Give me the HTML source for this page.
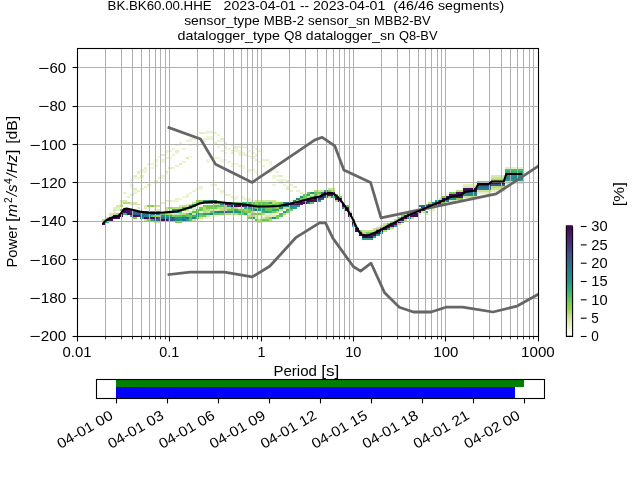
<!DOCTYPE html>
<html><head><meta charset="utf-8"><title>PPSD</title>
<style>html,body{margin:0;padding:0;background:#fff;}svg{display:block;will-change:transform;}</style></head>
<body>
<svg width="640" height="480" viewBox="0 0 640 480" font-family="'Liberation Sans', sans-serif" fill="#000">
<rect width="640" height="480" fill="#fff"/>
<g shape-rendering="crispEdges">
<rect x="102.27" y="218.88" width="3.52" height="1.97" fill="#b8db78"/>
<rect x="102.27" y="222.72" width="3.52" height="1.97" fill="#460b5c"/>
<rect x="105.74" y="216.96" width="3.52" height="1.97" fill="#cde298"/>
<rect x="105.74" y="218.88" width="3.52" height="1.97" fill="#460b5c"/>
<rect x="105.74" y="220.80" width="3.52" height="1.97" fill="#38b472"/>
<rect x="109.21" y="213.12" width="3.52" height="1.97" fill="#d9e8af"/>
<rect x="109.21" y="215.04" width="3.52" height="1.97" fill="#d9e8af"/>
<rect x="109.21" y="216.96" width="3.52" height="1.97" fill="#460b5c"/>
<rect x="109.21" y="218.88" width="3.52" height="1.97" fill="#460b5c"/>
<rect x="112.67" y="207.36" width="3.52" height="1.97" fill="#e4efc6"/>
<rect x="112.67" y="209.28" width="3.52" height="1.97" fill="#d9e8af"/>
<rect x="112.67" y="211.20" width="3.52" height="1.97" fill="#e4efc6"/>
<rect x="112.67" y="213.12" width="3.52" height="1.97" fill="#cde298"/>
<rect x="112.67" y="215.04" width="3.52" height="1.97" fill="#460b5c"/>
<rect x="112.67" y="216.96" width="3.52" height="1.97" fill="#460b5c"/>
<rect x="116.14" y="205.44" width="3.52" height="1.97" fill="#d9e8af"/>
<rect x="116.14" y="207.36" width="3.52" height="1.97" fill="#e4efc6"/>
<rect x="116.14" y="209.28" width="3.52" height="1.97" fill="#e4efc6"/>
<rect x="116.14" y="213.12" width="3.52" height="1.97" fill="#a3d458"/>
<rect x="116.14" y="215.04" width="3.52" height="1.97" fill="#460b5c"/>
<rect x="116.14" y="216.96" width="3.52" height="1.97" fill="#460b5c"/>
<rect x="119.61" y="199.68" width="3.52" height="1.97" fill="#d9e8af"/>
<rect x="119.61" y="201.60" width="3.52" height="1.97" fill="#e4efc6"/>
<rect x="119.61" y="203.52" width="3.52" height="1.97" fill="#e4efc6"/>
<rect x="119.61" y="205.44" width="3.52" height="1.97" fill="#b8db78"/>
<rect x="119.61" y="209.28" width="3.52" height="1.97" fill="#76ca54"/>
<rect x="119.61" y="213.12" width="3.52" height="1.97" fill="#460b5c"/>
<rect x="119.61" y="215.04" width="3.52" height="1.97" fill="#460b5c"/>
<rect x="123.08" y="199.68" width="3.52" height="1.97" fill="#d9e8af"/>
<rect x="123.08" y="201.60" width="3.52" height="1.97" fill="#b8db78"/>
<rect x="123.08" y="209.28" width="3.52" height="1.97" fill="#460b5c"/>
<rect x="123.08" y="211.20" width="3.52" height="1.97" fill="#460b5c"/>
<rect x="123.08" y="213.12" width="3.52" height="1.97" fill="#38b472"/>
<rect x="126.55" y="201.60" width="3.52" height="1.97" fill="#b8db78"/>
<rect x="126.55" y="209.28" width="3.52" height="1.97" fill="#460b5c"/>
<rect x="126.55" y="211.20" width="3.52" height="1.97" fill="#460b5c"/>
<rect x="126.55" y="213.12" width="3.52" height="1.97" fill="#460b5c"/>
<rect x="130.01" y="201.60" width="3.52" height="1.97" fill="#d9e8af"/>
<rect x="130.01" y="203.52" width="3.52" height="1.97" fill="#d9e8af"/>
<rect x="130.01" y="209.28" width="3.52" height="1.97" fill="#472f7d"/>
<rect x="130.01" y="211.20" width="3.52" height="1.97" fill="#472f7d"/>
<rect x="130.01" y="213.12" width="3.52" height="1.97" fill="#460b5c"/>
<rect x="130.01" y="215.04" width="3.52" height="1.97" fill="#269e84"/>
<rect x="133.48" y="201.60" width="3.52" height="1.97" fill="#d9e8af"/>
<rect x="133.48" y="203.52" width="3.52" height="1.97" fill="#d9e8af"/>
<rect x="133.48" y="211.20" width="3.52" height="1.97" fill="#365d8c"/>
<rect x="133.48" y="213.12" width="3.52" height="1.97" fill="#31688e"/>
<rect x="133.48" y="215.04" width="3.52" height="1.97" fill="#460b5c"/>
<rect x="133.48" y="216.96" width="3.52" height="1.97" fill="#76ca54"/>
<rect x="136.95" y="203.52" width="3.52" height="1.97" fill="#cde298"/>
<rect x="136.95" y="207.36" width="3.52" height="1.97" fill="#e4efc6"/>
<rect x="136.95" y="211.20" width="3.52" height="1.97" fill="#472f7d"/>
<rect x="136.95" y="213.12" width="3.52" height="1.97" fill="#365d8c"/>
<rect x="136.95" y="215.04" width="3.52" height="1.97" fill="#471465"/>
<rect x="143.88" y="205.44" width="3.52" height="1.97" fill="#e4efc6"/>
<rect x="147.35" y="205.44" width="3.52" height="1.97" fill="#8dce4c"/>
<rect x="150.82" y="205.44" width="3.52" height="1.97" fill="#8dce4c"/>
<rect x="154.29" y="205.44" width="3.52" height="1.97" fill="#cde298"/>
<rect x="157.76" y="205.44" width="3.52" height="1.97" fill="#cde298"/>
<rect x="143.88" y="207.36" width="3.52" height="1.97" fill="#e4efc6"/>
<rect x="154.29" y="209.28" width="3.52" height="1.97" fill="#e4efc6"/>
<rect x="157.76" y="209.28" width="3.52" height="1.97" fill="#e4efc6"/>
<rect x="161.22" y="201.60" width="3.52" height="1.97" fill="#e4efc6"/>
<rect x="164.69" y="199.68" width="3.52" height="1.97" fill="#e4efc6"/>
<rect x="168.16" y="199.68" width="3.52" height="1.97" fill="#e4efc6"/>
<rect x="171.63" y="199.68" width="3.52" height="1.97" fill="#eef5db"/>
<rect x="164.69" y="207.36" width="3.52" height="1.97" fill="#cde298"/>
<rect x="164.69" y="209.28" width="3.52" height="1.97" fill="#cde298"/>
<rect x="168.16" y="207.36" width="3.52" height="1.97" fill="#a3d458"/>
<rect x="171.63" y="207.36" width="3.52" height="1.97" fill="#b8db78"/>
<rect x="140.42" y="213.12" width="3.52" height="1.97" fill="#28798e"/>
<rect x="143.88" y="213.12" width="3.52" height="1.97" fill="#2d708e"/>
<rect x="147.35" y="213.12" width="3.52" height="1.97" fill="#28798e"/>
<rect x="150.82" y="213.12" width="3.52" height="1.97" fill="#31688e"/>
<rect x="154.29" y="213.12" width="3.52" height="1.97" fill="#28798e"/>
<rect x="157.76" y="213.12" width="3.52" height="1.97" fill="#25818e"/>
<rect x="161.22" y="213.12" width="3.52" height="1.97" fill="#60c65c"/>
<rect x="164.69" y="213.12" width="3.52" height="1.97" fill="#a3d458"/>
<rect x="168.16" y="213.12" width="3.52" height="1.97" fill="#b8db78"/>
<rect x="171.63" y="213.12" width="3.52" height="1.97" fill="#d9e8af"/>
<rect x="140.42" y="215.04" width="3.52" height="1.97" fill="#31688e"/>
<rect x="143.88" y="215.04" width="3.52" height="1.97" fill="#25818e"/>
<rect x="147.35" y="215.04" width="3.52" height="1.97" fill="#20928c"/>
<rect x="150.82" y="215.04" width="3.52" height="1.97" fill="#76ca54"/>
<rect x="154.29" y="215.04" width="3.52" height="1.97" fill="#a3d458"/>
<rect x="157.76" y="215.04" width="3.52" height="1.97" fill="#a3d458"/>
<rect x="161.22" y="215.04" width="3.52" height="1.97" fill="#20928c"/>
<rect x="164.69" y="215.04" width="3.52" height="1.97" fill="#269e84"/>
<rect x="168.16" y="215.04" width="3.52" height="1.97" fill="#2baa7c"/>
<rect x="171.63" y="215.04" width="3.52" height="1.97" fill="#76ca54"/>
<rect x="140.42" y="216.96" width="3.52" height="1.97" fill="#20928c"/>
<rect x="143.88" y="216.96" width="3.52" height="1.97" fill="#460b5c"/>
<rect x="147.35" y="216.96" width="3.52" height="1.97" fill="#481d6d"/>
<rect x="150.82" y="216.96" width="3.52" height="1.97" fill="#460b5c"/>
<rect x="154.29" y="216.96" width="3.52" height="1.97" fill="#472f7d"/>
<rect x="157.76" y="216.96" width="3.52" height="1.97" fill="#31688e"/>
<rect x="161.22" y="216.96" width="3.52" height="1.97" fill="#31688e"/>
<rect x="164.69" y="216.96" width="3.52" height="1.97" fill="#28798e"/>
<rect x="168.16" y="216.96" width="3.52" height="1.97" fill="#31688e"/>
<rect x="171.63" y="216.96" width="3.52" height="1.97" fill="#365d8c"/>
<rect x="143.88" y="218.88" width="3.52" height="1.97" fill="#cde298"/>
<rect x="147.35" y="218.88" width="3.52" height="1.97" fill="#76ca54"/>
<rect x="150.82" y="218.88" width="3.52" height="1.97" fill="#2baa7c"/>
<rect x="154.29" y="218.88" width="3.52" height="1.97" fill="#2d708e"/>
<rect x="157.76" y="218.88" width="3.52" height="1.97" fill="#365d8c"/>
<rect x="161.22" y="218.88" width="3.52" height="1.97" fill="#460b5c"/>
<rect x="164.69" y="218.88" width="3.52" height="1.97" fill="#471465"/>
<rect x="168.16" y="218.88" width="3.52" height="1.97" fill="#365d8c"/>
<rect x="171.63" y="218.88" width="3.52" height="1.97" fill="#365d8c"/>
<rect x="154.29" y="220.80" width="3.52" height="1.97" fill="#cde298"/>
<rect x="157.76" y="220.80" width="3.52" height="1.97" fill="#cde298"/>
<rect x="140.42" y="211.20" width="3.52" height="1.97" fill="#228a8d"/>
<rect x="143.88" y="211.20" width="3.52" height="1.97" fill="#228a8d"/>
<rect x="147.35" y="211.20" width="3.52" height="1.97" fill="#228a8d"/>
<rect x="150.82" y="211.20" width="3.52" height="1.97" fill="#228a8d"/>
<rect x="154.29" y="211.20" width="3.52" height="1.97" fill="#228a8d"/>
<rect x="157.76" y="211.20" width="3.52" height="1.97" fill="#228a8d"/>
<rect x="182.03" y="195.84" width="3.52" height="1.97" fill="#eef5db"/>
<rect x="178.56" y="197.76" width="3.52" height="1.97" fill="#eef5db"/>
<rect x="175.10" y="199.68" width="3.52" height="1.97" fill="#eef5db"/>
<rect x="195.90" y="199.68" width="3.52" height="1.97" fill="#8dce4c"/>
<rect x="199.37" y="199.68" width="3.52" height="1.97" fill="#8dce4c"/>
<rect x="202.84" y="199.68" width="3.52" height="1.97" fill="#269e84"/>
<rect x="206.31" y="199.68" width="3.52" height="1.97" fill="#269e84"/>
<rect x="209.77" y="199.68" width="3.52" height="1.97" fill="#269e84"/>
<rect x="192.43" y="201.60" width="3.52" height="1.97" fill="#cde298"/>
<rect x="195.90" y="201.60" width="3.52" height="1.97" fill="#76ca54"/>
<rect x="199.37" y="201.60" width="3.52" height="1.97" fill="#28798e"/>
<rect x="202.84" y="201.60" width="3.52" height="1.97" fill="#20928c"/>
<rect x="206.31" y="201.60" width="3.52" height="1.97" fill="#20928c"/>
<rect x="209.77" y="201.60" width="3.52" height="1.97" fill="#25818e"/>
<rect x="185.50" y="203.52" width="3.52" height="1.97" fill="#e4efc6"/>
<rect x="188.97" y="203.52" width="3.52" height="1.97" fill="#cde298"/>
<rect x="192.43" y="203.52" width="3.52" height="1.97" fill="#269e84"/>
<rect x="195.90" y="203.52" width="3.52" height="1.97" fill="#228a8d"/>
<rect x="178.56" y="205.44" width="3.52" height="1.97" fill="#d9e8af"/>
<rect x="182.03" y="205.44" width="3.52" height="1.97" fill="#cde298"/>
<rect x="185.50" y="205.44" width="3.52" height="1.97" fill="#cde298"/>
<rect x="188.97" y="205.44" width="3.52" height="1.97" fill="#2baa7c"/>
<rect x="192.43" y="205.44" width="3.52" height="1.97" fill="#269e84"/>
<rect x="195.90" y="205.44" width="3.52" height="1.97" fill="#eef5db"/>
<rect x="199.37" y="205.44" width="3.52" height="1.97" fill="#eef5db"/>
<rect x="202.84" y="205.44" width="3.52" height="1.97" fill="#76ca54"/>
<rect x="206.31" y="205.44" width="3.52" height="1.97" fill="#76ca54"/>
<rect x="209.77" y="205.44" width="3.52" height="1.97" fill="#76ca54"/>
<rect x="175.10" y="207.36" width="3.52" height="1.97" fill="#b8db78"/>
<rect x="178.56" y="207.36" width="3.52" height="1.97" fill="#b8db78"/>
<rect x="182.03" y="207.36" width="3.52" height="1.97" fill="#38b472"/>
<rect x="185.50" y="207.36" width="3.52" height="1.97" fill="#38b472"/>
<rect x="188.97" y="207.36" width="3.52" height="1.97" fill="#38b472"/>
<rect x="192.43" y="207.36" width="3.52" height="1.97" fill="#e4efc6"/>
<rect x="199.37" y="207.36" width="3.52" height="1.97" fill="#76ca54"/>
<rect x="202.84" y="207.36" width="3.52" height="1.97" fill="#b8db78"/>
<rect x="206.31" y="207.36" width="3.52" height="1.97" fill="#76ca54"/>
<rect x="209.77" y="207.36" width="3.52" height="1.97" fill="#76ca54"/>
<rect x="171.63" y="209.28" width="3.52" height="1.97" fill="#269e84"/>
<rect x="175.10" y="209.28" width="3.52" height="1.97" fill="#269e84"/>
<rect x="178.56" y="209.28" width="3.52" height="1.97" fill="#269e84"/>
<rect x="182.03" y="209.28" width="3.52" height="1.97" fill="#76ca54"/>
<rect x="185.50" y="209.28" width="3.52" height="1.97" fill="#cde298"/>
<rect x="188.97" y="209.28" width="3.52" height="1.97" fill="#f7faed"/>
<rect x="192.43" y="209.28" width="3.52" height="1.97" fill="#d9e8af"/>
<rect x="195.90" y="209.28" width="3.52" height="1.97" fill="#60c65c"/>
<rect x="199.37" y="209.28" width="3.52" height="1.97" fill="#60c65c"/>
<rect x="202.84" y="209.28" width="3.52" height="1.97" fill="#b8db78"/>
<rect x="206.31" y="209.28" width="3.52" height="1.97" fill="#b8db78"/>
<rect x="209.77" y="209.28" width="3.52" height="1.97" fill="#d9e8af"/>
<rect x="171.63" y="211.20" width="3.52" height="1.97" fill="#25818e"/>
<rect x="175.10" y="211.20" width="3.52" height="1.97" fill="#25818e"/>
<rect x="178.56" y="211.20" width="3.52" height="1.97" fill="#60c65c"/>
<rect x="182.03" y="211.20" width="3.52" height="1.97" fill="#eef5db"/>
<rect x="185.50" y="211.20" width="3.52" height="1.97" fill="#eef5db"/>
<rect x="188.97" y="211.20" width="3.52" height="1.97" fill="#d9e8af"/>
<rect x="192.43" y="211.20" width="3.52" height="1.97" fill="#60c65c"/>
<rect x="195.90" y="211.20" width="3.52" height="1.97" fill="#60c65c"/>
<rect x="199.37" y="211.20" width="3.52" height="1.97" fill="#eef5db"/>
<rect x="202.84" y="211.20" width="3.52" height="1.97" fill="#b8db78"/>
<rect x="206.31" y="211.20" width="3.52" height="1.97" fill="#cde298"/>
<rect x="209.77" y="211.20" width="3.52" height="1.97" fill="#60c65c"/>
<rect x="175.10" y="213.12" width="3.52" height="1.97" fill="#d9e8af"/>
<rect x="178.56" y="213.12" width="3.52" height="1.97" fill="#b8db78"/>
<rect x="182.03" y="213.12" width="3.52" height="1.97" fill="#b8db78"/>
<rect x="185.50" y="213.12" width="3.52" height="1.97" fill="#76ca54"/>
<rect x="188.97" y="213.12" width="3.52" height="1.97" fill="#269e84"/>
<rect x="192.43" y="213.12" width="3.52" height="1.97" fill="#cde298"/>
<rect x="195.90" y="213.12" width="3.52" height="1.97" fill="#228a8d"/>
<rect x="199.37" y="213.12" width="3.52" height="1.97" fill="#4cbd67"/>
<rect x="202.84" y="213.12" width="3.52" height="1.97" fill="#269e84"/>
<rect x="206.31" y="213.12" width="3.52" height="1.97" fill="#269e84"/>
<rect x="209.77" y="213.12" width="3.52" height="1.97" fill="#25818e"/>
<rect x="175.10" y="215.04" width="3.52" height="1.97" fill="#60c65c"/>
<rect x="178.56" y="215.04" width="3.52" height="1.97" fill="#60c65c"/>
<rect x="182.03" y="215.04" width="3.52" height="1.97" fill="#38b472"/>
<rect x="185.50" y="215.04" width="3.52" height="1.97" fill="#60c65c"/>
<rect x="188.97" y="215.04" width="3.52" height="1.97" fill="#76ca54"/>
<rect x="192.43" y="215.04" width="3.52" height="1.97" fill="#38b472"/>
<rect x="195.90" y="215.04" width="3.52" height="1.97" fill="#269e84"/>
<rect x="199.37" y="215.04" width="3.52" height="1.97" fill="#76ca54"/>
<rect x="202.84" y="215.04" width="3.52" height="1.97" fill="#76ca54"/>
<rect x="206.31" y="215.04" width="3.52" height="1.97" fill="#cde298"/>
<rect x="209.77" y="215.04" width="3.52" height="1.97" fill="#eef5db"/>
<rect x="175.10" y="216.96" width="3.52" height="1.97" fill="#20928c"/>
<rect x="178.56" y="216.96" width="3.52" height="1.97" fill="#20928c"/>
<rect x="182.03" y="216.96" width="3.52" height="1.97" fill="#25818e"/>
<rect x="185.50" y="216.96" width="3.52" height="1.97" fill="#2d708e"/>
<rect x="188.97" y="216.96" width="3.52" height="1.97" fill="#4cbd67"/>
<rect x="192.43" y="216.96" width="3.52" height="1.97" fill="#25818e"/>
<rect x="195.90" y="216.96" width="3.52" height="1.97" fill="#76ca54"/>
<rect x="199.37" y="216.96" width="3.52" height="1.97" fill="#cde298"/>
<rect x="202.84" y="216.96" width="3.52" height="1.97" fill="#eef5db"/>
<rect x="206.31" y="216.96" width="3.52" height="1.97" fill="#eef5db"/>
<rect x="175.10" y="218.88" width="3.52" height="1.97" fill="#228a8d"/>
<rect x="178.56" y="218.88" width="3.52" height="1.97" fill="#20928c"/>
<rect x="182.03" y="218.88" width="3.52" height="1.97" fill="#2d708e"/>
<rect x="185.50" y="218.88" width="3.52" height="1.97" fill="#269e84"/>
<rect x="188.97" y="218.88" width="3.52" height="1.97" fill="#60c65c"/>
<rect x="192.43" y="218.88" width="3.52" height="1.97" fill="#cde298"/>
<rect x="199.37" y="218.88" width="3.52" height="1.97" fill="#eef5db"/>
<rect x="175.10" y="220.80" width="3.52" height="1.97" fill="#76ca54"/>
<rect x="178.56" y="220.80" width="3.52" height="1.97" fill="#76ca54"/>
<rect x="213.24" y="199.68" width="3.52" height="1.97" fill="#2baa7c"/>
<rect x="216.71" y="199.68" width="3.52" height="1.97" fill="#d9e8af"/>
<rect x="220.18" y="199.68" width="3.52" height="1.97" fill="#eef5db"/>
<rect x="213.24" y="201.60" width="3.52" height="1.97" fill="#25818e"/>
<rect x="216.71" y="201.60" width="3.52" height="1.97" fill="#38b472"/>
<rect x="220.18" y="201.60" width="3.52" height="1.97" fill="#38b472"/>
<rect x="223.65" y="201.60" width="3.52" height="1.97" fill="#38b472"/>
<rect x="227.11" y="201.60" width="3.52" height="1.97" fill="#38b472"/>
<rect x="230.58" y="201.60" width="3.52" height="1.97" fill="#38b472"/>
<rect x="234.05" y="201.60" width="3.52" height="1.97" fill="#76ca54"/>
<rect x="237.52" y="201.60" width="3.52" height="1.97" fill="#76ca54"/>
<rect x="240.98" y="201.60" width="3.52" height="1.97" fill="#38b472"/>
<rect x="244.45" y="201.60" width="3.52" height="1.97" fill="#38b472"/>
<rect x="247.92" y="201.60" width="3.52" height="1.97" fill="#38b472"/>
<rect x="213.24" y="203.52" width="3.52" height="1.97" fill="#d9e8af"/>
<rect x="216.71" y="203.52" width="3.52" height="1.97" fill="#d9e8af"/>
<rect x="220.18" y="203.52" width="3.52" height="1.97" fill="#25818e"/>
<rect x="223.65" y="203.52" width="3.52" height="1.97" fill="#471465"/>
<rect x="227.11" y="203.52" width="3.52" height="1.97" fill="#471465"/>
<rect x="230.58" y="203.52" width="3.52" height="1.97" fill="#20928c"/>
<rect x="234.05" y="203.52" width="3.52" height="1.97" fill="#38b472"/>
<rect x="237.52" y="203.52" width="3.52" height="1.97" fill="#38b472"/>
<rect x="240.98" y="203.52" width="3.52" height="1.97" fill="#38b472"/>
<rect x="244.45" y="203.52" width="3.52" height="1.97" fill="#38b472"/>
<rect x="247.92" y="203.52" width="3.52" height="1.97" fill="#60c65c"/>
<rect x="213.24" y="205.44" width="3.52" height="1.97" fill="#60c65c"/>
<rect x="216.71" y="205.44" width="3.52" height="1.97" fill="#60c65c"/>
<rect x="220.18" y="205.44" width="3.52" height="1.97" fill="#60c65c"/>
<rect x="223.65" y="205.44" width="3.52" height="1.97" fill="#a3d458"/>
<rect x="227.11" y="205.44" width="3.52" height="1.97" fill="#25818e"/>
<rect x="230.58" y="205.44" width="3.52" height="1.97" fill="#481d6d"/>
<rect x="234.05" y="205.44" width="3.52" height="1.97" fill="#460b5c"/>
<rect x="237.52" y="205.44" width="3.52" height="1.97" fill="#460b5c"/>
<rect x="240.98" y="205.44" width="3.52" height="1.97" fill="#471465"/>
<rect x="244.45" y="205.44" width="3.52" height="1.97" fill="#404687"/>
<rect x="247.92" y="205.44" width="3.52" height="1.97" fill="#404687"/>
<rect x="213.24" y="207.36" width="3.52" height="1.97" fill="#76ca54"/>
<rect x="216.71" y="207.36" width="3.52" height="1.97" fill="#b8db78"/>
<rect x="220.18" y="207.36" width="3.52" height="1.97" fill="#b8db78"/>
<rect x="223.65" y="207.36" width="3.52" height="1.97" fill="#b8db78"/>
<rect x="227.11" y="207.36" width="3.52" height="1.97" fill="#b8db78"/>
<rect x="230.58" y="207.36" width="3.52" height="1.97" fill="#76ca54"/>
<rect x="234.05" y="207.36" width="3.52" height="1.97" fill="#b8db78"/>
<rect x="237.52" y="207.36" width="3.52" height="1.97" fill="#e4efc6"/>
<rect x="240.98" y="207.36" width="3.52" height="1.97" fill="#e4efc6"/>
<rect x="244.45" y="207.36" width="3.52" height="1.97" fill="#2baa7c"/>
<rect x="247.92" y="207.36" width="3.52" height="1.97" fill="#2baa7c"/>
<rect x="213.24" y="209.28" width="3.52" height="1.97" fill="#d9e8af"/>
<rect x="216.71" y="209.28" width="3.52" height="1.97" fill="#d9e8af"/>
<rect x="220.18" y="209.28" width="3.52" height="1.97" fill="#b8db78"/>
<rect x="223.65" y="209.28" width="3.52" height="1.97" fill="#b8db78"/>
<rect x="227.11" y="209.28" width="3.52" height="1.97" fill="#76ca54"/>
<rect x="230.58" y="209.28" width="3.52" height="1.97" fill="#76ca54"/>
<rect x="234.05" y="209.28" width="3.52" height="1.97" fill="#2baa7c"/>
<rect x="237.52" y="209.28" width="3.52" height="1.97" fill="#76ca54"/>
<rect x="240.98" y="209.28" width="3.52" height="1.97" fill="#76ca54"/>
<rect x="244.45" y="209.28" width="3.52" height="1.97" fill="#a3d458"/>
<rect x="247.92" y="209.28" width="3.52" height="1.97" fill="#76ca54"/>
<rect x="213.24" y="211.20" width="3.52" height="1.97" fill="#20928c"/>
<rect x="216.71" y="211.20" width="3.52" height="1.97" fill="#28798e"/>
<rect x="220.18" y="211.20" width="3.52" height="1.97" fill="#28798e"/>
<rect x="223.65" y="211.20" width="3.52" height="1.97" fill="#31688e"/>
<rect x="227.11" y="211.20" width="3.52" height="1.97" fill="#28798e"/>
<rect x="230.58" y="211.20" width="3.52" height="1.97" fill="#28798e"/>
<rect x="234.05" y="211.20" width="3.52" height="1.97" fill="#20928c"/>
<rect x="237.52" y="211.20" width="3.52" height="1.97" fill="#20928c"/>
<rect x="240.98" y="211.20" width="3.52" height="1.97" fill="#4cbd67"/>
<rect x="244.45" y="211.20" width="3.52" height="1.97" fill="#76ca54"/>
<rect x="247.92" y="211.20" width="3.52" height="1.97" fill="#76ca54"/>
<rect x="213.24" y="213.12" width="3.52" height="1.97" fill="#60c65c"/>
<rect x="216.71" y="213.12" width="3.52" height="1.97" fill="#60c65c"/>
<rect x="220.18" y="213.12" width="3.52" height="1.97" fill="#76ca54"/>
<rect x="223.65" y="213.12" width="3.52" height="1.97" fill="#b8db78"/>
<rect x="227.11" y="213.12" width="3.52" height="1.97" fill="#b8db78"/>
<rect x="230.58" y="213.12" width="3.52" height="1.97" fill="#cde298"/>
<rect x="234.05" y="213.12" width="3.52" height="1.97" fill="#b8db78"/>
<rect x="237.52" y="213.12" width="3.52" height="1.97" fill="#76ca54"/>
<rect x="240.98" y="213.12" width="3.52" height="1.97" fill="#76ca54"/>
<rect x="244.45" y="213.12" width="3.52" height="1.97" fill="#2baa7c"/>
<rect x="247.92" y="213.12" width="3.52" height="1.97" fill="#d9e8af"/>
<rect x="213.24" y="215.04" width="3.52" height="1.97" fill="#eef5db"/>
<rect x="216.71" y="215.04" width="3.52" height="1.97" fill="#eef5db"/>
<rect x="237.52" y="215.04" width="3.52" height="1.97" fill="#eef5db"/>
<rect x="247.92" y="215.04" width="3.52" height="1.97" fill="#b8db78"/>
<rect x="247.92" y="216.96" width="3.52" height="1.97" fill="#76ca54"/>
<rect x="247.92" y="199.68" width="3.52" height="1.97" fill="#e4efc6"/>
<rect x="251.39" y="199.68" width="3.52" height="1.97" fill="#e4efc6"/>
<rect x="254.86" y="199.68" width="3.52" height="1.97" fill="#cde298"/>
<rect x="258.32" y="199.68" width="3.52" height="1.97" fill="#cde298"/>
<rect x="261.79" y="199.68" width="3.52" height="1.97" fill="#cde298"/>
<rect x="265.26" y="199.68" width="3.52" height="1.97" fill="#cde298"/>
<rect x="268.73" y="199.68" width="3.52" height="1.97" fill="#cde298"/>
<rect x="272.20" y="199.68" width="3.52" height="1.97" fill="#cde298"/>
<rect x="275.66" y="199.68" width="3.52" height="1.97" fill="#eef5db"/>
<rect x="251.39" y="201.60" width="3.52" height="1.97" fill="#60c65c"/>
<rect x="254.86" y="201.60" width="3.52" height="1.97" fill="#a3d458"/>
<rect x="258.32" y="201.60" width="3.52" height="1.97" fill="#60c65c"/>
<rect x="261.79" y="201.60" width="3.52" height="1.97" fill="#60c65c"/>
<rect x="265.26" y="201.60" width="3.52" height="1.97" fill="#60c65c"/>
<rect x="268.73" y="201.60" width="3.52" height="1.97" fill="#2baa7c"/>
<rect x="272.20" y="201.60" width="3.52" height="1.97" fill="#b8db78"/>
<rect x="275.66" y="201.60" width="3.52" height="1.97" fill="#a3d458"/>
<rect x="279.13" y="201.60" width="3.52" height="1.97" fill="#76ca54"/>
<rect x="282.60" y="201.60" width="3.52" height="1.97" fill="#228a8d"/>
<rect x="286.07" y="201.60" width="3.52" height="1.97" fill="#31688e"/>
<rect x="251.39" y="203.52" width="3.52" height="1.97" fill="#60c65c"/>
<rect x="254.86" y="203.52" width="3.52" height="1.97" fill="#60c65c"/>
<rect x="258.32" y="203.52" width="3.52" height="1.97" fill="#60c65c"/>
<rect x="261.79" y="203.52" width="3.52" height="1.97" fill="#60c65c"/>
<rect x="265.26" y="203.52" width="3.52" height="1.97" fill="#76ca54"/>
<rect x="268.73" y="203.52" width="3.52" height="1.97" fill="#a3d458"/>
<rect x="272.20" y="203.52" width="3.52" height="1.97" fill="#60c65c"/>
<rect x="275.66" y="203.52" width="3.52" height="1.97" fill="#60c65c"/>
<rect x="279.13" y="203.52" width="3.52" height="1.97" fill="#60c65c"/>
<rect x="282.60" y="203.52" width="3.52" height="1.97" fill="#472675"/>
<rect x="286.07" y="203.52" width="3.52" height="1.97" fill="#472675"/>
<rect x="251.39" y="205.44" width="3.52" height="1.97" fill="#38b472"/>
<rect x="254.86" y="205.44" width="3.52" height="1.97" fill="#38b472"/>
<rect x="258.32" y="205.44" width="3.52" height="1.97" fill="#38b472"/>
<rect x="261.79" y="205.44" width="3.52" height="1.97" fill="#38b472"/>
<rect x="265.26" y="205.44" width="3.52" height="1.97" fill="#38b472"/>
<rect x="268.73" y="205.44" width="3.52" height="1.97" fill="#38b472"/>
<rect x="272.20" y="205.44" width="3.52" height="1.97" fill="#38b472"/>
<rect x="275.66" y="205.44" width="3.52" height="1.97" fill="#38b472"/>
<rect x="279.13" y="205.44" width="3.52" height="1.97" fill="#38b472"/>
<rect x="282.60" y="205.44" width="3.52" height="1.97" fill="#25818e"/>
<rect x="286.07" y="205.44" width="3.52" height="1.97" fill="#28798e"/>
<rect x="251.39" y="207.36" width="3.52" height="1.97" fill="#20928c"/>
<rect x="254.86" y="207.36" width="3.52" height="1.97" fill="#76ca54"/>
<rect x="258.32" y="207.36" width="3.52" height="1.97" fill="#2baa7c"/>
<rect x="261.79" y="207.36" width="3.52" height="1.97" fill="#38b472"/>
<rect x="265.26" y="207.36" width="3.52" height="1.97" fill="#76ca54"/>
<rect x="268.73" y="207.36" width="3.52" height="1.97" fill="#76ca54"/>
<rect x="272.20" y="207.36" width="3.52" height="1.97" fill="#60c65c"/>
<rect x="275.66" y="207.36" width="3.52" height="1.97" fill="#8dce4c"/>
<rect x="279.13" y="207.36" width="3.52" height="1.97" fill="#25818e"/>
<rect x="282.60" y="207.36" width="3.52" height="1.97" fill="#b8db78"/>
<rect x="286.07" y="207.36" width="3.52" height="1.97" fill="#cde298"/>
<rect x="251.39" y="209.28" width="3.52" height="1.97" fill="#269e84"/>
<rect x="254.86" y="209.28" width="3.52" height="1.97" fill="#365d8c"/>
<rect x="258.32" y="209.28" width="3.52" height="1.97" fill="#20928c"/>
<rect x="261.79" y="209.28" width="3.52" height="1.97" fill="#269e84"/>
<rect x="265.26" y="209.28" width="3.52" height="1.97" fill="#60c65c"/>
<rect x="268.73" y="209.28" width="3.52" height="1.97" fill="#60c65c"/>
<rect x="272.20" y="209.28" width="3.52" height="1.97" fill="#2baa7c"/>
<rect x="275.66" y="209.28" width="3.52" height="1.97" fill="#2baa7c"/>
<rect x="279.13" y="209.28" width="3.52" height="1.97" fill="#b8db78"/>
<rect x="282.60" y="209.28" width="3.52" height="1.97" fill="#f7faed"/>
<rect x="286.07" y="209.28" width="3.52" height="1.97" fill="#38b472"/>
<rect x="251.39" y="211.20" width="3.52" height="1.97" fill="#cde298"/>
<rect x="254.86" y="211.20" width="3.52" height="1.97" fill="#f7faed"/>
<rect x="258.32" y="211.20" width="3.52" height="1.97" fill="#d9e8af"/>
<rect x="261.79" y="211.20" width="3.52" height="1.97" fill="#38b472"/>
<rect x="265.26" y="211.20" width="3.52" height="1.97" fill="#269e84"/>
<rect x="268.73" y="211.20" width="3.52" height="1.97" fill="#38b472"/>
<rect x="272.20" y="211.20" width="3.52" height="1.97" fill="#76ca54"/>
<rect x="275.66" y="211.20" width="3.52" height="1.97" fill="#b8db78"/>
<rect x="282.60" y="211.20" width="3.52" height="1.97" fill="#269e84"/>
<rect x="286.07" y="211.20" width="3.52" height="1.97" fill="#76ca54"/>
<rect x="251.39" y="213.12" width="3.52" height="1.97" fill="#76ca54"/>
<rect x="254.86" y="213.12" width="3.52" height="1.97" fill="#76ca54"/>
<rect x="258.32" y="213.12" width="3.52" height="1.97" fill="#76ca54"/>
<rect x="261.79" y="213.12" width="3.52" height="1.97" fill="#b8db78"/>
<rect x="265.26" y="213.12" width="3.52" height="1.97" fill="#eef5db"/>
<rect x="268.73" y="213.12" width="3.52" height="1.97" fill="#d9e8af"/>
<rect x="272.20" y="213.12" width="3.52" height="1.97" fill="#eef5db"/>
<rect x="275.66" y="213.12" width="3.52" height="1.97" fill="#eef5db"/>
<rect x="279.13" y="213.12" width="3.52" height="1.97" fill="#4cbd67"/>
<rect x="282.60" y="213.12" width="3.52" height="1.97" fill="#b8db78"/>
<rect x="251.39" y="215.04" width="3.52" height="1.97" fill="#b8db78"/>
<rect x="254.86" y="215.04" width="3.52" height="1.97" fill="#d9e8af"/>
<rect x="258.32" y="215.04" width="3.52" height="1.97" fill="#eef5db"/>
<rect x="261.79" y="215.04" width="3.52" height="1.97" fill="#eef5db"/>
<rect x="265.26" y="215.04" width="3.52" height="1.97" fill="#d9e8af"/>
<rect x="268.73" y="215.04" width="3.52" height="1.97" fill="#e4efc6"/>
<rect x="272.20" y="215.04" width="3.52" height="1.97" fill="#d9e8af"/>
<rect x="275.66" y="215.04" width="3.52" height="1.97" fill="#76ca54"/>
<rect x="279.13" y="215.04" width="3.52" height="1.97" fill="#60c65c"/>
<rect x="251.39" y="216.96" width="3.52" height="1.97" fill="#269e84"/>
<rect x="254.86" y="216.96" width="3.52" height="1.97" fill="#d9e8af"/>
<rect x="258.32" y="216.96" width="3.52" height="1.97" fill="#eef5db"/>
<rect x="261.79" y="216.96" width="3.52" height="1.97" fill="#d9e8af"/>
<rect x="265.26" y="216.96" width="3.52" height="1.97" fill="#b8db78"/>
<rect x="268.73" y="216.96" width="3.52" height="1.97" fill="#76ca54"/>
<rect x="272.20" y="216.96" width="3.52" height="1.97" fill="#20928c"/>
<rect x="275.66" y="216.96" width="3.52" height="1.97" fill="#76ca54"/>
<rect x="251.39" y="218.88" width="3.52" height="1.97" fill="#f7faed"/>
<rect x="254.86" y="218.88" width="3.52" height="1.97" fill="#60c65c"/>
<rect x="258.32" y="218.88" width="3.52" height="1.97" fill="#b8db78"/>
<rect x="261.79" y="218.88" width="3.52" height="1.97" fill="#60c65c"/>
<rect x="265.26" y="218.88" width="3.52" height="1.97" fill="#76ca54"/>
<rect x="268.73" y="218.88" width="3.52" height="1.97" fill="#b8db78"/>
<rect x="258.32" y="220.80" width="3.52" height="1.97" fill="#cde298"/>
<rect x="261.79" y="220.80" width="3.52" height="1.97" fill="#eef5db"/>
<rect x="289.53" y="199.68" width="3.52" height="1.97" fill="#e4efc6"/>
<rect x="289.53" y="201.60" width="3.52" height="1.97" fill="#28798e"/>
<rect x="289.53" y="203.52" width="3.52" height="1.97" fill="#471465"/>
<rect x="289.53" y="205.44" width="3.52" height="1.97" fill="#20928c"/>
<rect x="289.53" y="207.36" width="3.52" height="1.97" fill="#269e84"/>
<rect x="289.53" y="209.28" width="3.52" height="1.97" fill="#76ca54"/>
<rect x="293.00" y="197.76" width="3.52" height="1.97" fill="#eef5db"/>
<rect x="293.00" y="199.68" width="3.52" height="1.97" fill="#25818e"/>
<rect x="293.00" y="201.60" width="3.52" height="1.97" fill="#b8db78"/>
<rect x="293.00" y="203.52" width="3.52" height="1.97" fill="#471465"/>
<rect x="293.00" y="205.44" width="3.52" height="1.97" fill="#20928c"/>
<rect x="293.00" y="207.36" width="3.52" height="1.97" fill="#269e84"/>
<rect x="296.47" y="195.84" width="3.52" height="1.97" fill="#eef5db"/>
<rect x="296.47" y="197.76" width="3.52" height="1.97" fill="#25818e"/>
<rect x="296.47" y="199.68" width="3.52" height="1.97" fill="#a3d458"/>
<rect x="296.47" y="201.60" width="3.52" height="1.97" fill="#472f7d"/>
<rect x="296.47" y="203.52" width="3.52" height="1.97" fill="#460b5c"/>
<rect x="296.47" y="205.44" width="3.52" height="1.97" fill="#20928c"/>
<rect x="299.94" y="193.92" width="3.52" height="1.97" fill="#eef5db"/>
<rect x="299.94" y="195.84" width="3.52" height="1.97" fill="#20928c"/>
<rect x="299.94" y="197.76" width="3.52" height="1.97" fill="#76ca54"/>
<rect x="299.94" y="199.68" width="3.52" height="1.97" fill="#8dce4c"/>
<rect x="299.94" y="201.60" width="3.52" height="1.97" fill="#460b5c"/>
<rect x="299.94" y="203.52" width="3.52" height="1.97" fill="#481d6d"/>
<rect x="303.41" y="193.92" width="3.52" height="1.97" fill="#60c65c"/>
<rect x="303.41" y="195.84" width="3.52" height="1.97" fill="#60c65c"/>
<rect x="303.41" y="197.76" width="3.52" height="1.97" fill="#76ca54"/>
<rect x="303.41" y="199.68" width="3.52" height="1.97" fill="#31688e"/>
<rect x="303.41" y="201.60" width="3.52" height="1.97" fill="#460b5c"/>
<rect x="306.87" y="192.00" width="3.52" height="1.97" fill="#76ca54"/>
<rect x="306.87" y="193.92" width="3.52" height="1.97" fill="#2baa7c"/>
<rect x="306.87" y="195.84" width="3.52" height="1.97" fill="#cde298"/>
<rect x="306.87" y="197.76" width="3.52" height="1.97" fill="#31688e"/>
<rect x="306.87" y="199.68" width="3.52" height="1.97" fill="#460b5c"/>
<rect x="306.87" y="201.60" width="3.52" height="1.97" fill="#31688e"/>
<rect x="310.34" y="192.00" width="3.52" height="1.97" fill="#20928c"/>
<rect x="310.34" y="193.92" width="3.52" height="1.97" fill="#d9e8af"/>
<rect x="310.34" y="195.84" width="3.52" height="1.97" fill="#76ca54"/>
<rect x="310.34" y="197.76" width="3.52" height="1.97" fill="#472f7d"/>
<rect x="310.34" y="199.68" width="3.52" height="1.97" fill="#460b5c"/>
<rect x="310.34" y="201.60" width="3.52" height="1.97" fill="#60c65c"/>
<rect x="313.81" y="190.08" width="3.52" height="1.97" fill="#b8db78"/>
<rect x="313.81" y="192.00" width="3.52" height="1.97" fill="#60c65c"/>
<rect x="313.81" y="193.92" width="3.52" height="1.97" fill="#60c65c"/>
<rect x="313.81" y="195.84" width="3.52" height="1.97" fill="#31688e"/>
<rect x="313.81" y="197.76" width="3.52" height="1.97" fill="#460b5c"/>
<rect x="313.81" y="199.68" width="3.52" height="1.97" fill="#471465"/>
<rect x="317.28" y="190.08" width="3.52" height="1.97" fill="#cde298"/>
<rect x="317.28" y="192.00" width="3.52" height="1.97" fill="#76ca54"/>
<rect x="317.28" y="193.92" width="3.52" height="1.97" fill="#b8db78"/>
<rect x="317.28" y="195.84" width="3.52" height="1.97" fill="#472f7d"/>
<rect x="317.28" y="197.76" width="3.52" height="1.97" fill="#433b82"/>
<rect x="317.28" y="199.68" width="3.52" height="1.97" fill="#20928c"/>
<rect x="320.75" y="190.08" width="3.52" height="1.97" fill="#cde298"/>
<rect x="320.75" y="192.00" width="3.52" height="1.97" fill="#25818e"/>
<rect x="320.75" y="193.92" width="3.52" height="1.97" fill="#481d6d"/>
<rect x="320.75" y="195.84" width="3.52" height="1.97" fill="#471465"/>
<rect x="320.75" y="197.76" width="3.52" height="1.97" fill="#365d8c"/>
<rect x="324.21" y="190.08" width="3.52" height="1.97" fill="#269e84"/>
<rect x="324.21" y="192.00" width="3.52" height="1.97" fill="#471465"/>
<rect x="324.21" y="193.92" width="3.52" height="1.97" fill="#460b5c"/>
<rect x="324.21" y="195.84" width="3.52" height="1.97" fill="#31688e"/>
<rect x="327.68" y="190.08" width="3.52" height="1.97" fill="#76ca54"/>
<rect x="327.68" y="188.16" width="3.52" height="1.97" fill="#cde298"/>
<rect x="327.68" y="192.00" width="3.52" height="1.97" fill="#472675"/>
<rect x="327.68" y="193.92" width="3.52" height="1.97" fill="#460b5c"/>
<rect x="327.68" y="195.84" width="3.52" height="1.97" fill="#b8db78"/>
<rect x="331.15" y="190.08" width="3.52" height="1.97" fill="#b8db78"/>
<rect x="331.15" y="188.16" width="3.52" height="1.97" fill="#cde298"/>
<rect x="331.15" y="192.00" width="3.52" height="1.97" fill="#472675"/>
<rect x="331.15" y="193.92" width="3.52" height="1.97" fill="#460b5c"/>
<rect x="331.15" y="195.84" width="3.52" height="1.97" fill="#269e84"/>
<rect x="334.62" y="193.92" width="3.52" height="1.97" fill="#76ca54"/>
<rect x="334.62" y="195.84" width="3.52" height="1.97" fill="#472675"/>
<rect x="334.62" y="197.76" width="3.52" height="1.97" fill="#460b5c"/>
<rect x="334.62" y="199.68" width="3.52" height="1.97" fill="#b8db78"/>
<rect x="338.08" y="195.84" width="3.52" height="1.97" fill="#76ca54"/>
<rect x="338.08" y="197.76" width="3.52" height="1.97" fill="#471465"/>
<rect x="338.08" y="199.68" width="3.52" height="1.97" fill="#460b5c"/>
<rect x="341.55" y="201.60" width="3.52" height="1.97" fill="#cde298"/>
<rect x="341.55" y="203.52" width="3.52" height="1.97" fill="#471465"/>
<rect x="341.55" y="205.44" width="3.52" height="1.97" fill="#460b5c"/>
<rect x="341.55" y="207.36" width="3.52" height="1.97" fill="#269e84"/>
<rect x="345.02" y="205.44" width="3.52" height="1.97" fill="#76ca54"/>
<rect x="345.02" y="207.36" width="3.52" height="1.97" fill="#471465"/>
<rect x="345.02" y="209.28" width="3.52" height="1.97" fill="#460b5c"/>
<rect x="348.49" y="211.20" width="3.52" height="1.97" fill="#cde298"/>
<rect x="348.49" y="213.12" width="3.52" height="1.97" fill="#471465"/>
<rect x="348.49" y="215.04" width="3.52" height="1.97" fill="#460b5c"/>
<rect x="351.96" y="218.88" width="3.52" height="1.97" fill="#76ca54"/>
<rect x="351.96" y="220.80" width="3.52" height="1.97" fill="#471465"/>
<rect x="351.96" y="222.72" width="3.52" height="1.97" fill="#460b5c"/>
<rect x="351.96" y="224.64" width="3.52" height="1.97" fill="#269e84"/>
<rect x="355.42" y="226.56" width="3.52" height="1.97" fill="#cde298"/>
<rect x="355.42" y="228.48" width="3.52" height="1.97" fill="#471465"/>
<rect x="355.42" y="230.40" width="3.52" height="1.97" fill="#460b5c"/>
<rect x="358.89" y="230.40" width="3.52" height="1.97" fill="#76ca54"/>
<rect x="358.89" y="232.32" width="3.52" height="1.97" fill="#471465"/>
<rect x="358.89" y="234.24" width="3.52" height="1.97" fill="#460b5c"/>
<rect x="362.36" y="232.32" width="3.52" height="1.97" fill="#b8db78"/>
<rect x="362.36" y="230.40" width="3.52" height="1.97" fill="#cde298"/>
<rect x="362.36" y="234.24" width="3.52" height="1.97" fill="#472675"/>
<rect x="362.36" y="236.16" width="3.52" height="1.97" fill="#460b5c"/>
<rect x="362.36" y="238.08" width="3.52" height="1.97" fill="#269e84"/>
<rect x="365.83" y="232.32" width="3.52" height="1.97" fill="#76ca54"/>
<rect x="365.83" y="230.40" width="3.52" height="1.97" fill="#cde298"/>
<rect x="365.83" y="234.24" width="3.52" height="1.97" fill="#472675"/>
<rect x="365.83" y="236.16" width="3.52" height="1.97" fill="#460b5c"/>
<rect x="365.83" y="238.08" width="3.52" height="1.97" fill="#269e84"/>
<rect x="369.30" y="232.32" width="3.52" height="1.97" fill="#76ca54"/>
<rect x="369.30" y="230.40" width="3.52" height="1.97" fill="#cde298"/>
<rect x="369.30" y="234.24" width="3.52" height="1.97" fill="#472675"/>
<rect x="369.30" y="236.16" width="3.52" height="1.97" fill="#460b5c"/>
<rect x="369.30" y="238.08" width="3.52" height="1.97" fill="#269e84"/>
<rect x="372.76" y="230.40" width="3.52" height="1.97" fill="#b8db78"/>
<rect x="372.76" y="228.48" width="3.52" height="1.97" fill="#cde298"/>
<rect x="372.76" y="232.32" width="3.52" height="1.97" fill="#472675"/>
<rect x="372.76" y="234.24" width="3.52" height="1.97" fill="#460b5c"/>
<rect x="372.76" y="236.16" width="3.52" height="1.97" fill="#269e84"/>
<rect x="376.23" y="228.48" width="3.52" height="1.97" fill="#76ca54"/>
<rect x="376.23" y="226.56" width="3.52" height="1.97" fill="#cde298"/>
<rect x="376.23" y="230.40" width="3.52" height="1.97" fill="#472675"/>
<rect x="376.23" y="232.32" width="3.52" height="1.97" fill="#460b5c"/>
<rect x="376.23" y="234.24" width="3.52" height="1.97" fill="#269e84"/>
<rect x="379.70" y="226.56" width="3.52" height="1.97" fill="#76ca54"/>
<rect x="379.70" y="224.64" width="3.52" height="1.97" fill="#cde298"/>
<rect x="379.70" y="228.48" width="3.52" height="1.97" fill="#472675"/>
<rect x="379.70" y="230.40" width="3.52" height="1.97" fill="#460b5c"/>
<rect x="379.70" y="232.32" width="3.52" height="1.97" fill="#269e84"/>
<rect x="383.17" y="224.64" width="3.52" height="1.97" fill="#b8db78"/>
<rect x="383.17" y="222.72" width="3.52" height="1.97" fill="#cde298"/>
<rect x="383.17" y="226.56" width="3.52" height="1.97" fill="#472675"/>
<rect x="383.17" y="228.48" width="3.52" height="1.97" fill="#460b5c"/>
<rect x="383.17" y="230.40" width="3.52" height="1.97" fill="#b8db78"/>
<rect x="386.63" y="222.72" width="3.52" height="1.97" fill="#76ca54"/>
<rect x="386.63" y="224.64" width="3.52" height="1.97" fill="#472675"/>
<rect x="386.63" y="226.56" width="3.52" height="1.97" fill="#460b5c"/>
<rect x="386.63" y="228.48" width="3.52" height="1.97" fill="#269e84"/>
<rect x="390.10" y="220.80" width="3.52" height="1.97" fill="#76ca54"/>
<rect x="390.10" y="222.72" width="3.52" height="1.97" fill="#472675"/>
<rect x="390.10" y="224.64" width="3.52" height="1.97" fill="#460b5c"/>
<rect x="390.10" y="226.56" width="3.52" height="1.97" fill="#b8db78"/>
<rect x="393.57" y="218.88" width="3.52" height="1.97" fill="#b8db78"/>
<rect x="393.57" y="220.80" width="3.52" height="1.97" fill="#472675"/>
<rect x="393.57" y="222.72" width="3.52" height="1.97" fill="#460b5c"/>
<rect x="393.57" y="224.64" width="3.52" height="1.97" fill="#269e84"/>
<rect x="397.04" y="216.96" width="3.52" height="1.97" fill="#76ca54"/>
<rect x="397.04" y="218.88" width="3.52" height="1.97" fill="#472675"/>
<rect x="397.04" y="220.80" width="3.52" height="1.97" fill="#460b5c"/>
<rect x="397.04" y="222.72" width="3.52" height="1.97" fill="#b8db78"/>
<rect x="400.51" y="215.04" width="3.52" height="1.97" fill="#76ca54"/>
<rect x="400.51" y="216.96" width="3.52" height="1.97" fill="#472675"/>
<rect x="400.51" y="218.88" width="3.52" height="1.97" fill="#460b5c"/>
<rect x="400.51" y="220.80" width="3.52" height="1.97" fill="#269e84"/>
<rect x="403.97" y="213.12" width="3.52" height="1.97" fill="#b8db78"/>
<rect x="403.97" y="215.04" width="3.52" height="1.97" fill="#472675"/>
<rect x="403.97" y="216.96" width="3.52" height="1.97" fill="#460b5c"/>
<rect x="403.97" y="218.88" width="3.52" height="1.97" fill="#b8db78"/>
<rect x="407.44" y="211.20" width="3.52" height="1.97" fill="#76ca54"/>
<rect x="407.44" y="213.12" width="3.52" height="1.97" fill="#472675"/>
<rect x="407.44" y="215.04" width="3.52" height="1.97" fill="#460b5c"/>
<rect x="407.44" y="216.96" width="3.52" height="1.97" fill="#269e84"/>
<rect x="410.91" y="211.20" width="3.52" height="1.97" fill="#76ca54"/>
<rect x="410.91" y="213.12" width="3.52" height="1.97" fill="#472675"/>
<rect x="410.91" y="215.04" width="3.52" height="1.97" fill="#460b5c"/>
<rect x="410.91" y="216.96" width="3.52" height="1.97" fill="#b8db78"/>
<rect x="414.38" y="211.20" width="3.52" height="1.97" fill="#b8db78"/>
<rect x="414.38" y="213.12" width="3.52" height="1.97" fill="#460b5c"/>
<rect x="414.38" y="215.04" width="3.52" height="1.97" fill="#460b5c"/>
<rect x="417.85" y="205.44" width="3.52" height="1.97" fill="#25818e"/>
<rect x="417.85" y="209.28" width="3.52" height="1.97" fill="#31688e"/>
<rect x="417.85" y="211.20" width="3.52" height="1.97" fill="#471465"/>
<rect x="417.85" y="213.12" width="3.52" height="1.97" fill="#d9e8af"/>
<rect x="421.31" y="205.44" width="3.52" height="1.97" fill="#31688e"/>
<rect x="421.31" y="207.36" width="3.52" height="1.97" fill="#472675"/>
<rect x="421.31" y="209.28" width="3.52" height="1.97" fill="#460b5c"/>
<rect x="421.31" y="211.20" width="3.52" height="1.97" fill="#cde298"/>
<rect x="424.78" y="203.52" width="3.52" height="1.97" fill="#76ca54"/>
<rect x="424.78" y="205.44" width="3.52" height="1.97" fill="#3b528b"/>
<rect x="424.78" y="207.36" width="3.52" height="1.97" fill="#471465"/>
<rect x="424.78" y="211.20" width="3.52" height="1.97" fill="#38b472"/>
<rect x="424.78" y="213.12" width="3.52" height="1.97" fill="#d9e8af"/>
<rect x="428.25" y="201.60" width="3.52" height="1.97" fill="#b8db78"/>
<rect x="428.25" y="203.52" width="3.52" height="1.97" fill="#404687"/>
<rect x="428.25" y="205.44" width="3.52" height="1.97" fill="#481d6d"/>
<rect x="428.25" y="207.36" width="3.52" height="1.97" fill="#20928c"/>
<rect x="428.25" y="209.28" width="3.52" height="1.97" fill="#e4efc6"/>
<rect x="431.72" y="201.60" width="3.52" height="1.97" fill="#20928c"/>
<rect x="431.72" y="203.52" width="3.52" height="1.97" fill="#471465"/>
<rect x="431.72" y="205.44" width="3.52" height="1.97" fill="#31688e"/>
<rect x="431.72" y="207.36" width="3.52" height="1.97" fill="#d9e8af"/>
<rect x="431.72" y="209.28" width="3.52" height="1.97" fill="#e4efc6"/>
<rect x="435.19" y="199.68" width="3.52" height="1.97" fill="#20928c"/>
<rect x="435.19" y="201.60" width="3.52" height="1.97" fill="#471465"/>
<rect x="435.19" y="203.52" width="3.52" height="1.97" fill="#472675"/>
<rect x="435.19" y="205.44" width="3.52" height="1.97" fill="#e4efc6"/>
<rect x="438.65" y="197.76" width="3.52" height="1.97" fill="#cde298"/>
<rect x="438.65" y="199.68" width="3.52" height="1.97" fill="#471465"/>
<rect x="438.65" y="201.60" width="3.52" height="1.97" fill="#471465"/>
<rect x="438.65" y="203.52" width="3.52" height="1.97" fill="#60c65c"/>
<rect x="442.12" y="195.84" width="3.52" height="1.97" fill="#76ca54"/>
<rect x="442.12" y="197.76" width="3.52" height="1.97" fill="#460b5c"/>
<rect x="442.12" y="199.68" width="3.52" height="1.97" fill="#460b5c"/>
<rect x="442.12" y="201.60" width="3.52" height="1.97" fill="#76ca54"/>
<rect x="445.59" y="193.92" width="3.52" height="1.97" fill="#e4efc6"/>
<rect x="445.59" y="195.84" width="3.52" height="1.97" fill="#471465"/>
<rect x="445.59" y="197.76" width="3.52" height="1.97" fill="#481d6d"/>
<rect x="445.59" y="199.68" width="3.52" height="1.97" fill="#31688e"/>
<rect x="449.06" y="192.00" width="3.52" height="1.97" fill="#76ca54"/>
<rect x="449.06" y="193.92" width="3.52" height="1.97" fill="#460b5c"/>
<rect x="449.06" y="195.84" width="3.52" height="1.97" fill="#472675"/>
<rect x="449.06" y="197.76" width="3.52" height="1.97" fill="#20928c"/>
<rect x="449.06" y="199.68" width="3.52" height="1.97" fill="#d9e8af"/>
<rect x="452.52" y="192.00" width="3.52" height="1.97" fill="#76ca54"/>
<rect x="452.52" y="193.92" width="3.52" height="1.97" fill="#460b5c"/>
<rect x="452.52" y="195.84" width="3.52" height="1.97" fill="#472675"/>
<rect x="452.52" y="197.76" width="3.52" height="1.97" fill="#20928c"/>
<rect x="452.52" y="199.68" width="3.52" height="1.97" fill="#d9e8af"/>
<rect x="455.99" y="190.08" width="3.52" height="1.97" fill="#b8db78"/>
<rect x="455.99" y="192.00" width="3.52" height="1.97" fill="#460b5c"/>
<rect x="455.99" y="193.92" width="3.52" height="1.97" fill="#472675"/>
<rect x="455.99" y="195.84" width="3.52" height="1.97" fill="#471465"/>
<rect x="455.99" y="197.76" width="3.52" height="1.97" fill="#8dce4c"/>
<rect x="459.46" y="190.08" width="3.52" height="1.97" fill="#b8db78"/>
<rect x="459.46" y="192.00" width="3.52" height="1.97" fill="#460b5c"/>
<rect x="459.46" y="193.92" width="3.52" height="1.97" fill="#472675"/>
<rect x="459.46" y="195.84" width="3.52" height="1.97" fill="#471465"/>
<rect x="459.46" y="197.76" width="3.52" height="1.97" fill="#8dce4c"/>
<rect x="462.95" y="184.30" width="14.10" height="1.95" fill="#e4efc6"/>
<rect x="462.95" y="186.20" width="14.10" height="2.05" fill="#d9e8af"/>
<rect x="462.95" y="188.20" width="14.10" height="1.95" fill="#460b5c"/>
<rect x="462.95" y="190.10" width="14.10" height="1.95" fill="#460b5c"/>
<rect x="462.95" y="192.00" width="14.10" height="1.95" fill="#28798e"/>
<rect x="462.95" y="193.90" width="14.10" height="1.95" fill="#228a8d"/>
<rect x="462.95" y="195.80" width="14.10" height="2.05" fill="#cde298"/>
<rect x="477.00" y="180.50" width="14.05" height="1.95" fill="#8dce4c"/>
<rect x="477.00" y="182.40" width="14.05" height="1.95" fill="#460b5c"/>
<rect x="477.00" y="184.30" width="14.05" height="1.95" fill="#481d6d"/>
<rect x="477.00" y="186.20" width="14.05" height="2.05" fill="#31688e"/>
<rect x="477.00" y="188.20" width="14.05" height="1.95" fill="#28798e"/>
<rect x="477.00" y="190.10" width="14.05" height="1.95" fill="#cde298"/>
<rect x="477.00" y="192.00" width="14.05" height="1.95" fill="#e4efc6"/>
<rect x="491.00" y="174.70" width="14.05" height="1.95" fill="#d9e8af"/>
<rect x="491.00" y="176.60" width="14.05" height="2.05" fill="#cde298"/>
<rect x="491.00" y="178.60" width="14.05" height="1.95" fill="#a3d458"/>
<rect x="491.00" y="180.50" width="14.05" height="1.95" fill="#269e84"/>
<rect x="491.00" y="182.40" width="14.05" height="1.95" fill="#460b5c"/>
<rect x="491.00" y="184.30" width="14.05" height="1.95" fill="#3b528b"/>
<rect x="491.00" y="186.20" width="14.05" height="2.05" fill="#b8db78"/>
<rect x="491.00" y="188.20" width="14.05" height="1.95" fill="#cde298"/>
<rect x="491.00" y="190.10" width="14.05" height="1.95" fill="#e4efc6"/>
<rect x="505.00" y="167.00" width="18.05" height="1.95" fill="#e4efc6"/>
<rect x="505.00" y="168.90" width="18.05" height="2.05" fill="#4cbd67"/>
<rect x="505.00" y="170.90" width="18.05" height="1.95" fill="#2baa7c"/>
<rect x="505.00" y="172.80" width="18.05" height="1.95" fill="#20928c"/>
<rect x="505.00" y="174.70" width="18.05" height="1.95" fill="#20928c"/>
<rect x="505.00" y="176.60" width="18.05" height="2.05" fill="#228a8d"/>
<rect x="505.00" y="178.60" width="18.05" height="1.95" fill="#269e84"/>
<rect x="505.00" y="180.50" width="18.05" height="1.95" fill="#cde298"/>
<rect x="505.00" y="182.40" width="18.05" height="1.95" fill="#d9e8af"/>
<rect x="130.01" y="178.56" width="3.52" height="1.97" fill="#ecf3d5"/>
<rect x="133.48" y="174.72" width="3.52" height="1.97" fill="#e2edc2"/>
<rect x="133.48" y="176.64" width="3.52" height="1.97" fill="#f0f6de"/>
<rect x="136.95" y="170.88" width="3.52" height="1.97" fill="#e2edc2"/>
<rect x="136.95" y="172.80" width="3.52" height="1.97" fill="#f0f6de"/>
<rect x="140.42" y="168.96" width="3.52" height="1.97" fill="#e8f1cd"/>
<rect x="140.42" y="170.88" width="3.52" height="1.97" fill="#f0f6de"/>
<rect x="143.88" y="167.04" width="3.52" height="1.97" fill="#e8f1cd"/>
<rect x="143.88" y="168.96" width="3.52" height="1.97" fill="#f0f6de"/>
<rect x="147.35" y="163.20" width="3.52" height="1.97" fill="#ecf3d5"/>
<rect x="150.82" y="163.20" width="3.52" height="1.97" fill="#ecf3d5"/>
<rect x="154.29" y="159.36" width="3.52" height="1.97" fill="#ecf3d5"/>
<rect x="154.29" y="161.28" width="3.52" height="1.97" fill="#f0f6de"/>
<rect x="157.76" y="155.52" width="3.52" height="1.97" fill="#e8f1cd"/>
<rect x="161.22" y="153.60" width="3.52" height="1.97" fill="#e2edc2"/>
<rect x="164.69" y="149.76" width="3.52" height="1.97" fill="#ecf3d5"/>
<rect x="164.69" y="151.68" width="3.52" height="1.97" fill="#f0f6de"/>
<rect x="168.16" y="149.76" width="3.52" height="1.97" fill="#ecf3d5"/>
<rect x="171.63" y="147.84" width="3.52" height="1.97" fill="#ecf3d5"/>
<rect x="175.10" y="144.00" width="3.52" height="1.97" fill="#e8f1cd"/>
<rect x="178.56" y="142.08" width="3.52" height="1.97" fill="#e8f1cd"/>
<rect x="185.50" y="140.16" width="3.52" height="1.97" fill="#ecf3d5"/>
<rect x="188.97" y="138.24" width="3.52" height="1.97" fill="#ecf3d5"/>
<rect x="188.97" y="140.16" width="3.52" height="1.97" fill="#f0f6de"/>
<rect x="192.43" y="138.24" width="3.52" height="1.97" fill="#e8f1cd"/>
<rect x="195.90" y="136.32" width="3.52" height="1.97" fill="#e8f1cd"/>
<rect x="199.37" y="132.48" width="3.52" height="1.97" fill="#e2edc2"/>
<rect x="202.84" y="132.48" width="3.52" height="1.97" fill="#ecf3d5"/>
<rect x="206.31" y="130.56" width="3.52" height="1.97" fill="#e2edc2"/>
<rect x="206.31" y="132.48" width="3.52" height="1.97" fill="#f0f6de"/>
<rect x="209.77" y="130.56" width="3.52" height="1.97" fill="#e8f1cd"/>
<rect x="213.24" y="132.48" width="3.52" height="1.97" fill="#e8f1cd"/>
<rect x="216.71" y="134.40" width="3.52" height="1.97" fill="#ecf3d5"/>
<rect x="220.18" y="138.24" width="3.52" height="1.97" fill="#e2edc2"/>
<rect x="220.18" y="140.16" width="3.52" height="1.97" fill="#f0f6de"/>
<rect x="223.65" y="142.08" width="3.52" height="1.97" fill="#e8f1cd"/>
<rect x="230.58" y="144.00" width="3.52" height="1.97" fill="#e8f1cd"/>
<rect x="234.05" y="145.92" width="3.52" height="1.97" fill="#e8f1cd"/>
<rect x="234.05" y="147.84" width="3.52" height="1.97" fill="#f0f6de"/>
<rect x="237.52" y="145.92" width="3.52" height="1.97" fill="#ecf3d5"/>
<rect x="240.98" y="145.92" width="3.52" height="1.97" fill="#ecf3d5"/>
<rect x="244.45" y="145.92" width="3.52" height="1.97" fill="#ecf3d5"/>
<rect x="251.39" y="145.92" width="3.52" height="1.97" fill="#ecf3d5"/>
<rect x="254.86" y="147.84" width="3.52" height="1.97" fill="#ecf3d5"/>
<rect x="258.32" y="149.76" width="3.52" height="1.97" fill="#e8f1cd"/>
<rect x="265.26" y="159.36" width="3.52" height="1.97" fill="#e8f1cd"/>
<rect x="268.73" y="161.28" width="3.52" height="1.97" fill="#ecf3d5"/>
<rect x="268.73" y="163.20" width="3.52" height="1.97" fill="#f0f6de"/>
<rect x="272.20" y="167.04" width="3.52" height="1.97" fill="#ecf3d5"/>
<rect x="275.66" y="170.88" width="3.52" height="1.97" fill="#e8f1cd"/>
<rect x="279.13" y="174.72" width="3.52" height="1.97" fill="#e2edc2"/>
<rect x="282.60" y="178.56" width="3.52" height="1.97" fill="#ecf3d5"/>
<rect x="286.07" y="180.48" width="3.52" height="1.97" fill="#e2edc2"/>
<rect x="289.53" y="184.32" width="3.52" height="1.97" fill="#e8f1cd"/>
<rect x="293.00" y="186.24" width="3.52" height="1.97" fill="#e2edc2"/>
<rect x="296.47" y="190.08" width="3.52" height="1.97" fill="#e8f1cd"/>
<rect x="299.94" y="192.00" width="3.52" height="1.97" fill="#e8f1cd"/>
<rect x="136.95" y="176.64" width="3.52" height="1.97" fill="#edf4d9"/>
<rect x="140.42" y="174.72" width="3.52" height="1.97" fill="#e4efc6"/>
<rect x="140.42" y="176.64" width="3.52" height="1.97" fill="#f0f6de"/>
<rect x="143.88" y="170.88" width="3.52" height="1.97" fill="#edf4d9"/>
<rect x="150.82" y="167.04" width="3.52" height="1.97" fill="#edf4d9"/>
<rect x="154.29" y="165.12" width="3.52" height="1.97" fill="#edf4d9"/>
<rect x="161.22" y="159.36" width="3.52" height="1.97" fill="#eaf2d2"/>
<rect x="161.22" y="161.28" width="3.52" height="1.97" fill="#f0f6de"/>
<rect x="164.69" y="157.44" width="3.52" height="1.97" fill="#eaf2d2"/>
<rect x="168.16" y="155.52" width="3.52" height="1.97" fill="#edf4d9"/>
<rect x="168.16" y="157.44" width="3.52" height="1.97" fill="#f0f6de"/>
<rect x="171.63" y="153.60" width="3.52" height="1.97" fill="#eaf2d2"/>
<rect x="175.10" y="149.76" width="3.52" height="1.97" fill="#e4efc6"/>
<rect x="175.10" y="151.68" width="3.52" height="1.97" fill="#f0f6de"/>
<rect x="182.03" y="147.84" width="3.52" height="1.97" fill="#edf4d9"/>
<rect x="188.97" y="144.00" width="3.52" height="1.97" fill="#eaf2d2"/>
<rect x="195.90" y="144.00" width="3.52" height="1.97" fill="#eaf2d2"/>
<rect x="202.84" y="140.16" width="3.52" height="1.97" fill="#edf4d9"/>
<rect x="206.31" y="138.24" width="3.52" height="1.97" fill="#eaf2d2"/>
<rect x="209.77" y="138.24" width="3.52" height="1.97" fill="#edf4d9"/>
<rect x="213.24" y="142.08" width="3.52" height="1.97" fill="#e4efc6"/>
<rect x="216.71" y="145.92" width="3.52" height="1.97" fill="#eaf2d2"/>
<rect x="220.18" y="149.76" width="3.52" height="1.97" fill="#edf4d9"/>
<rect x="223.65" y="151.68" width="3.52" height="1.97" fill="#edf4d9"/>
<rect x="230.58" y="151.68" width="3.52" height="1.97" fill="#e4efc6"/>
<rect x="237.52" y="151.68" width="3.52" height="1.97" fill="#edf4d9"/>
<rect x="237.52" y="153.60" width="3.52" height="1.97" fill="#f0f6de"/>
<rect x="240.98" y="151.68" width="3.52" height="1.97" fill="#eaf2d2"/>
<rect x="240.98" y="153.60" width="3.52" height="1.97" fill="#f0f6de"/>
<rect x="244.45" y="153.60" width="3.52" height="1.97" fill="#e4efc6"/>
<rect x="247.92" y="155.52" width="3.52" height="1.97" fill="#e4efc6"/>
<rect x="251.39" y="155.52" width="3.52" height="1.97" fill="#e4efc6"/>
<rect x="251.39" y="157.44" width="3.52" height="1.97" fill="#f0f6de"/>
<rect x="254.86" y="159.36" width="3.52" height="1.97" fill="#e4efc6"/>
<rect x="258.32" y="161.28" width="3.52" height="1.97" fill="#edf4d9"/>
<rect x="261.79" y="165.12" width="3.52" height="1.97" fill="#edf4d9"/>
<rect x="268.73" y="170.88" width="3.52" height="1.97" fill="#eaf2d2"/>
<rect x="272.20" y="174.72" width="3.52" height="1.97" fill="#edf4d9"/>
<rect x="272.20" y="176.64" width="3.52" height="1.97" fill="#f0f6de"/>
<rect x="275.66" y="178.56" width="3.52" height="1.97" fill="#edf4d9"/>
<rect x="279.13" y="180.48" width="3.52" height="1.97" fill="#e4efc6"/>
<rect x="279.13" y="182.40" width="3.52" height="1.97" fill="#f0f6de"/>
<rect x="282.60" y="184.32" width="3.52" height="1.97" fill="#eaf2d2"/>
<rect x="286.07" y="188.16" width="3.52" height="1.97" fill="#e4efc6"/>
<rect x="289.53" y="190.08" width="3.52" height="1.97" fill="#e4efc6"/>
<rect x="123.08" y="192.00" width="3.52" height="1.97" fill="#eaf2d2"/>
<rect x="130.01" y="184.32" width="3.52" height="1.97" fill="#eaf2d2"/>
<rect x="130.01" y="186.24" width="3.52" height="1.97" fill="#f0f6de"/>
<rect x="133.48" y="188.16" width="3.52" height="1.97" fill="#e0ecbd"/>
<rect x="133.48" y="190.08" width="3.52" height="1.97" fill="#f0f6de"/>
<rect x="136.95" y="190.08" width="3.52" height="1.97" fill="#e5efc9"/>
<rect x="140.42" y="188.16" width="3.52" height="1.97" fill="#eaf2d2"/>
<rect x="143.88" y="186.24" width="3.52" height="1.97" fill="#e5efc9"/>
<rect x="147.35" y="184.32" width="3.52" height="1.97" fill="#e0ecbd"/>
<rect x="154.29" y="180.48" width="3.52" height="1.97" fill="#e0ecbd"/>
<rect x="154.29" y="182.40" width="3.52" height="1.97" fill="#f0f6de"/>
<rect x="157.76" y="176.64" width="3.52" height="1.97" fill="#e5efc9"/>
<rect x="161.22" y="174.72" width="3.52" height="1.97" fill="#eaf2d2"/>
<rect x="161.22" y="176.64" width="3.52" height="1.97" fill="#f0f6de"/>
<rect x="164.69" y="170.88" width="3.52" height="1.97" fill="#e0ecbd"/>
<rect x="164.69" y="172.80" width="3.52" height="1.97" fill="#f0f6de"/>
<rect x="168.16" y="167.04" width="3.52" height="1.97" fill="#e0ecbd"/>
<rect x="171.63" y="167.04" width="3.52" height="1.97" fill="#eaf2d2"/>
<rect x="175.10" y="165.12" width="3.52" height="1.97" fill="#eaf2d2"/>
<rect x="178.56" y="163.20" width="3.52" height="1.97" fill="#e0ecbd"/>
<rect x="182.03" y="161.28" width="3.52" height="1.97" fill="#eaf2d2"/>
<rect x="185.50" y="157.44" width="3.52" height="1.97" fill="#e0ecbd"/>
<rect x="188.97" y="155.52" width="3.52" height="1.97" fill="#e5efc9"/>
<rect x="175.10" y="197.76" width="3.52" height="1.97" fill="#eaf2d2"/>
<rect x="185.50" y="193.92" width="3.52" height="1.97" fill="#eaf2d2"/>
<rect x="185.50" y="195.84" width="3.52" height="1.97" fill="#f0f6de"/>
<rect x="188.97" y="192.00" width="3.52" height="1.97" fill="#edf4d9"/>
<rect x="192.43" y="190.08" width="3.52" height="1.97" fill="#edf4d9"/>
<rect x="195.90" y="188.16" width="3.52" height="1.97" fill="#edf4d9"/>
<rect x="199.37" y="186.24" width="3.52" height="1.97" fill="#eaf2d2"/>
<rect x="199.37" y="188.16" width="3.52" height="1.97" fill="#f0f6de"/>
<rect x="209.77" y="184.32" width="3.52" height="1.97" fill="#edf4d9"/>
<rect x="213.24" y="184.32" width="3.52" height="1.97" fill="#e4efc6"/>
<rect x="216.71" y="188.16" width="3.52" height="1.97" fill="#eaf2d2"/>
<rect x="220.18" y="190.08" width="3.52" height="1.97" fill="#eaf2d2"/>
<rect x="220.18" y="192.00" width="3.52" height="1.97" fill="#f0f6de"/>
<rect x="223.65" y="193.92" width="3.52" height="1.97" fill="#e4efc6"/>
<rect x="227.11" y="193.92" width="3.52" height="1.97" fill="#eaf2d2"/>
<rect x="230.58" y="195.84" width="3.52" height="1.97" fill="#eaf2d2"/>
<rect x="234.05" y="195.84" width="3.52" height="1.97" fill="#edf4d9"/>
<rect x="234.05" y="197.76" width="3.52" height="1.97" fill="#f0f6de"/>
<rect x="240.98" y="195.84" width="3.52" height="1.97" fill="#edf4d9"/>
<rect x="240.98" y="197.76" width="3.52" height="1.97" fill="#f0f6de"/>
<rect x="244.45" y="197.76" width="3.52" height="1.97" fill="#edf4d9"/>
<rect x="247.92" y="197.76" width="3.52" height="1.97" fill="#eaf2d2"/>
<rect x="126.55" y="195.84" width="3.52" height="1.97" fill="#e5efc9"/>
<rect x="130.01" y="193.92" width="3.52" height="1.97" fill="#e0ecbd"/>
<rect x="133.48" y="192.00" width="3.52" height="1.97" fill="#eaf2d2"/>
<rect x="202.84" y="138.24" width="3.52" height="1.97" fill="#eff5dd"/>
<rect x="206.31" y="136.32" width="3.52" height="1.97" fill="#eff5dd"/>
<rect x="209.77" y="136.32" width="3.52" height="1.97" fill="#eff5dd"/>
<rect x="209.77" y="138.24" width="3.52" height="1.97" fill="#f0f6de"/>
<rect x="216.71" y="140.16" width="3.52" height="1.97" fill="#ecf3d5"/>
<rect x="220.18" y="144.00" width="3.52" height="1.97" fill="#ecf3d5"/>
<rect x="223.65" y="145.92" width="3.52" height="1.97" fill="#e6f0cb"/>
<rect x="223.65" y="147.84" width="3.52" height="1.97" fill="#f0f6de"/>
<rect x="227.11" y="147.84" width="3.52" height="1.97" fill="#eff5dd"/>
<rect x="230.58" y="149.76" width="3.52" height="1.97" fill="#ecf3d5"/>
<rect x="234.05" y="149.76" width="3.52" height="1.97" fill="#eff5dd"/>
<rect x="237.52" y="149.76" width="3.52" height="1.97" fill="#eff5dd"/>
<rect x="247.92" y="149.76" width="3.52" height="1.97" fill="#eff5dd"/>
<rect x="251.39" y="151.68" width="3.52" height="1.97" fill="#eff5dd"/>
<rect x="254.86" y="153.60" width="3.52" height="1.97" fill="#ecf3d5"/>
<rect x="254.86" y="155.52" width="3.52" height="1.97" fill="#f0f6de"/>
<rect x="261.79" y="159.36" width="3.52" height="1.97" fill="#ecf3d5"/>
<rect x="272.20" y="168.96" width="3.52" height="1.97" fill="#eff5dd"/>
<rect x="275.66" y="174.72" width="3.52" height="1.97" fill="#e6f0cb"/>
<rect x="279.13" y="178.56" width="3.52" height="1.97" fill="#ecf3d5"/>
<rect x="286.07" y="186.24" width="3.52" height="1.97" fill="#e6f0cb"/>
<rect x="206.31" y="159.36" width="3.52" height="1.97" fill="#f1f6e0"/>
<rect x="206.31" y="161.28" width="3.52" height="1.97" fill="#f0f6de"/>
<rect x="213.24" y="157.44" width="3.52" height="1.97" fill="#e9f1cf"/>
<rect x="216.71" y="157.44" width="3.52" height="1.97" fill="#f1f6e0"/>
<rect x="220.18" y="159.36" width="3.52" height="1.97" fill="#f1f6e0"/>
<rect x="220.18" y="161.28" width="3.52" height="1.97" fill="#f0f6de"/>
<rect x="223.65" y="159.36" width="3.52" height="1.97" fill="#edf4d9"/>
<rect x="227.11" y="161.28" width="3.52" height="1.97" fill="#e9f1cf"/>
<rect x="230.58" y="163.20" width="3.52" height="1.97" fill="#edf4d9"/>
<rect x="230.58" y="165.12" width="3.52" height="1.97" fill="#f0f6de"/>
<rect x="234.05" y="163.20" width="3.52" height="1.97" fill="#edf4d9"/>
<rect x="237.52" y="165.12" width="3.52" height="1.97" fill="#e9f1cf"/>
<rect x="240.98" y="165.12" width="3.52" height="1.97" fill="#f1f6e0"/>
<rect x="240.98" y="167.04" width="3.52" height="1.97" fill="#f0f6de"/>
<rect x="247.92" y="168.96" width="3.52" height="1.97" fill="#e9f1cf"/>
<rect x="247.92" y="170.88" width="3.52" height="1.97" fill="#f0f6de"/>
<rect x="251.39" y="168.96" width="3.52" height="1.97" fill="#edf4d9"/>
<rect x="254.86" y="170.88" width="3.52" height="1.97" fill="#e9f1cf"/>
<rect x="258.32" y="174.72" width="3.52" height="1.97" fill="#e9f1cf"/>
<rect x="272.20" y="184.32" width="3.52" height="1.97" fill="#edf4d9"/>
</g>
<g fill="#b0b0b0" shape-rendering="crispEdges">
<rect x="105" y="49" width="1" height="287"/>
<rect x="121" y="49" width="1" height="287"/>
<rect x="132" y="49" width="1" height="287"/>
<rect x="141" y="49" width="1" height="287"/>
<rect x="149" y="49" width="1" height="287"/>
<rect x="155" y="49" width="1" height="287"/>
<rect x="160" y="49" width="1" height="287"/>
<rect x="165" y="49" width="1" height="287"/>
<rect x="169" y="49" width="1" height="287"/>
<rect x="197" y="49" width="1" height="287"/>
<rect x="213" y="49" width="1" height="287"/>
<rect x="224" y="49" width="1" height="287"/>
<rect x="233" y="49" width="1" height="287"/>
<rect x="241" y="49" width="1" height="287"/>
<rect x="247" y="49" width="1" height="287"/>
<rect x="252" y="49" width="1" height="287"/>
<rect x="257" y="49" width="1" height="287"/>
<rect x="261" y="49" width="1" height="287"/>
<rect x="289" y="49" width="1" height="287"/>
<rect x="305" y="49" width="1" height="287"/>
<rect x="317" y="49" width="1" height="287"/>
<rect x="326" y="49" width="1" height="287"/>
<rect x="333" y="49" width="1" height="287"/>
<rect x="339" y="49" width="1" height="287"/>
<rect x="344" y="49" width="1" height="287"/>
<rect x="349" y="49" width="1" height="287"/>
<rect x="353" y="49" width="1" height="287"/>
<rect x="381" y="49" width="1" height="287"/>
<rect x="397" y="49" width="1" height="287"/>
<rect x="409" y="49" width="1" height="287"/>
<rect x="418" y="49" width="1" height="287"/>
<rect x="425" y="49" width="1" height="287"/>
<rect x="431" y="49" width="1" height="287"/>
<rect x="437" y="49" width="1" height="287"/>
<rect x="441" y="49" width="1" height="287"/>
<rect x="445" y="49" width="1" height="287"/>
<rect x="473" y="49" width="1" height="287"/>
<rect x="489" y="49" width="1" height="287"/>
<rect x="501" y="49" width="1" height="287"/>
<rect x="510" y="49" width="1" height="287"/>
<rect x="517" y="49" width="1" height="287"/>
<rect x="523" y="49" width="1" height="287"/>
<rect x="529" y="49" width="1" height="287"/>
<rect x="533" y="49" width="1" height="287"/>
<rect x="78" y="67" width="460" height="1"/>
<rect x="78" y="106" width="460" height="1"/>
<rect x="78" y="144" width="460" height="1"/>
<rect x="78" y="182" width="460" height="1"/>
<rect x="78" y="221" width="460" height="1"/>
<rect x="78" y="259" width="460" height="1"/>
<rect x="78" y="298" width="460" height="1"/>
</g>
<defs><clipPath id="ca"><rect x="77.5" y="48.5" width="461" height="288"/></clipPath></defs>
<g clip-path="url(#ca)" fill="none" stroke="#666666" stroke-width="2.78" stroke-linejoin="round" stroke-linecap="square">
<polyline points="168.96,127.68 200.52,139.01 215.51,164.16 252.19,182.40 314.55,140.16 322.20,137.28 334.79,145.92 343.85,169.92 370.56,182.40 381.02,217.92 496.13,193.92 629.76,105.79"/>
<polyline points="168.96,274.56 190.20,272.06 224.45,272.06 252.19,276.86 269.73,266.30 296.16,237.31 319.50,222.91 325.54,222.91 332.83,238.08 353.28,266.50 360.58,271.10 371.08,263.23 384.66,292.80 399.33,307.20 413.48,312.00 431.16,312.00 445.84,307.20 462.72,307.20 492.98,312.00 517.15,306.05 629.76,243.65"/>
</g>
<polyline fill="none" stroke="#000" stroke-width="2.1" stroke-linejoin="round" points="102.90,223.50 106.00,220.60 108.50,219.00 113.50,216.90 118.50,216.00 121.00,213.10 124.10,209.00 126.60,208.50 132.25,209.75 139.75,211.60 148.50,212.75 156.00,213.00 163.50,212.50 171.00,211.90 177.50,211.25 185.00,209.00 192.50,206.50 198.75,203.75 205.00,202.25 213.75,201.60 222.50,202.50 232.50,203.50 242.50,204.40 250.00,205.40 257.50,206.50 267.50,206.50 278.75,206.00 287.50,204.40 297.50,201.90 305.00,200.00 312.50,198.10 320.00,196.50 324.00,194.20 329.50,192.90 333.50,193.50 337.60,196.90 341.70,201.70 347.00,209.10 351.10,215.90 353.80,221.30 356.50,227.40 359.30,232.10 362.00,234.80 365.30,235.80 368.70,235.20 374.10,233.10 380.90,229.80 387.70,226.00 394.50,222.60 400.00,219.60 407.50,215.60 414.00,212.90 422.75,209.40 431.50,205.40 440.25,201.90 444.60,199.75 449.00,197.60 453.40,196.25 461.25,194.90 463.50,193.20 465.00,191.90 470.00,191.25 475.00,190.50 477.50,185.60 479.00,184.00 488.75,184.00 491.90,181.50 503.75,181.50 506.25,174.00 521.90,174.00"/>
<rect x="77.5" y="48.5" width="461" height="288" fill="none" stroke="#000" stroke-width="1.1"/>
<g stroke="#000" stroke-width="1.1">
<line x1="77.5" y1="336.5" x2="77.5" y2="341.4"/>
<line x1="169.5" y1="336.5" x2="169.5" y2="341.4"/>
<line x1="261.5" y1="336.5" x2="261.5" y2="341.4"/>
<line x1="353.5" y1="336.5" x2="353.5" y2="341.4"/>
<line x1="445.5" y1="336.5" x2="445.5" y2="341.4"/>
<line x1="538.5" y1="336.5" x2="538.5" y2="341.4"/>
<line x1="72.6" y1="67.5" x2="77.5" y2="67.5"/>
<line x1="72.6" y1="106.5" x2="77.5" y2="106.5"/>
<line x1="72.6" y1="144.5" x2="77.5" y2="144.5"/>
<line x1="72.6" y1="182.5" x2="77.5" y2="182.5"/>
<line x1="72.6" y1="221.5" x2="77.5" y2="221.5"/>
<line x1="72.6" y1="259.5" x2="77.5" y2="259.5"/>
<line x1="72.6" y1="298.5" x2="77.5" y2="298.5"/>
<line x1="72.6" y1="336.5" x2="77.5" y2="336.5"/>
</g>
<g stroke="#000" stroke-width="0.8">
<line x1="105.5" y1="336.5" x2="105.5" y2="339.3"/>
<line x1="121.5" y1="336.5" x2="121.5" y2="339.3"/>
<line x1="132.5" y1="336.5" x2="132.5" y2="339.3"/>
<line x1="141.5" y1="336.5" x2="141.5" y2="339.3"/>
<line x1="149.5" y1="336.5" x2="149.5" y2="339.3"/>
<line x1="155.5" y1="336.5" x2="155.5" y2="339.3"/>
<line x1="160.5" y1="336.5" x2="160.5" y2="339.3"/>
<line x1="165.5" y1="336.5" x2="165.5" y2="339.3"/>
<line x1="197.5" y1="336.5" x2="197.5" y2="339.3"/>
<line x1="213.5" y1="336.5" x2="213.5" y2="339.3"/>
<line x1="224.5" y1="336.5" x2="224.5" y2="339.3"/>
<line x1="233.5" y1="336.5" x2="233.5" y2="339.3"/>
<line x1="241.5" y1="336.5" x2="241.5" y2="339.3"/>
<line x1="247.5" y1="336.5" x2="247.5" y2="339.3"/>
<line x1="252.5" y1="336.5" x2="252.5" y2="339.3"/>
<line x1="257.5" y1="336.5" x2="257.5" y2="339.3"/>
<line x1="289.5" y1="336.5" x2="289.5" y2="339.3"/>
<line x1="305.5" y1="336.5" x2="305.5" y2="339.3"/>
<line x1="317.5" y1="336.5" x2="317.5" y2="339.3"/>
<line x1="326.5" y1="336.5" x2="326.5" y2="339.3"/>
<line x1="333.5" y1="336.5" x2="333.5" y2="339.3"/>
<line x1="339.5" y1="336.5" x2="339.5" y2="339.3"/>
<line x1="344.5" y1="336.5" x2="344.5" y2="339.3"/>
<line x1="349.5" y1="336.5" x2="349.5" y2="339.3"/>
<line x1="381.5" y1="336.5" x2="381.5" y2="339.3"/>
<line x1="397.5" y1="336.5" x2="397.5" y2="339.3"/>
<line x1="409.5" y1="336.5" x2="409.5" y2="339.3"/>
<line x1="418.5" y1="336.5" x2="418.5" y2="339.3"/>
<line x1="425.5" y1="336.5" x2="425.5" y2="339.3"/>
<line x1="431.5" y1="336.5" x2="431.5" y2="339.3"/>
<line x1="437.5" y1="336.5" x2="437.5" y2="339.3"/>
<line x1="441.5" y1="336.5" x2="441.5" y2="339.3"/>
<line x1="473.5" y1="336.5" x2="473.5" y2="339.3"/>
<line x1="489.5" y1="336.5" x2="489.5" y2="339.3"/>
<line x1="501.5" y1="336.5" x2="501.5" y2="339.3"/>
<line x1="510.5" y1="336.5" x2="510.5" y2="339.3"/>
<line x1="517.5" y1="336.5" x2="517.5" y2="339.3"/>
<line x1="523.5" y1="336.5" x2="523.5" y2="339.3"/>
<line x1="529.5" y1="336.5" x2="529.5" y2="339.3"/>
<line x1="533.5" y1="336.5" x2="533.5" y2="339.3"/>
</g>
<text y="9.50" font-size="13.00"><tspan x="107.60" textLength="104.0" lengthAdjust="spacingAndGlyphs">BK.BK60.00.HHE</tspan> <tspan x="223.60" textLength="72.4" lengthAdjust="spacingAndGlyphs">2023-04-01</tspan> <tspan x="299.98" textLength="9.0" lengthAdjust="spacingAndGlyphs">--</tspan> <tspan x="312.98" textLength="72.4" lengthAdjust="spacingAndGlyphs">2023-04-01</tspan> <tspan x="393.35" textLength="40.6" lengthAdjust="spacingAndGlyphs">(46/46</tspan> <tspan x="437.98" textLength="66.2" lengthAdjust="spacingAndGlyphs">segments)</tspan></text>
<text y="24.60" font-size="13.00"><tspan x="184.20" textLength="75.5" lengthAdjust="spacingAndGlyphs">sensor_type</tspan> <tspan x="263.70" textLength="40.4" lengthAdjust="spacingAndGlyphs">MBB-2</tspan> <tspan x="308.08" textLength="62.0" lengthAdjust="spacingAndGlyphs">sensor_sn</tspan> <tspan x="374.08" textLength="56.6" lengthAdjust="spacingAndGlyphs">MBB2-BV</tspan></text>
<text y="39.70" font-size="13.00"><tspan x="177.50" textLength="102.5" lengthAdjust="spacingAndGlyphs">datalogger_type</tspan> <tspan x="284.00" textLength="17.9" lengthAdjust="spacingAndGlyphs">Q8</tspan> <tspan x="305.88" textLength="89.0" lengthAdjust="spacingAndGlyphs">datalogger_sn</tspan> <tspan x="398.88" textLength="38.6" lengthAdjust="spacingAndGlyphs">Q8-BV</tspan></text>
<text x="62.50" y="357.00" font-size="14.20" text-anchor="start" textLength="29.0" lengthAdjust="spacingAndGlyphs">0.01</text>
<text x="159.30" y="357.00" font-size="14.20" text-anchor="start" textLength="20.0" lengthAdjust="spacingAndGlyphs">0.1</text>
<text x="257.40" y="357.00" font-size="14.20" text-anchor="start" textLength="8.0" lengthAdjust="spacingAndGlyphs">1</text>
<text x="345.20" y="357.00" font-size="14.20" text-anchor="start" textLength="16.2" lengthAdjust="spacingAndGlyphs">10</text>
<text x="433.30" y="357.00" font-size="14.20" text-anchor="start" textLength="25.0" lengthAdjust="spacingAndGlyphs">100</text>
<text x="521.10" y="357.00" font-size="14.20" text-anchor="start" textLength="33.6" lengthAdjust="spacingAndGlyphs">1000</text>
<text y="72.80" font-size="14.20"><tspan x="38.02" textLength="11.2" lengthAdjust="spacingAndGlyphs">−</tspan><tspan x="49.52" textLength="16.7" lengthAdjust="spacingAndGlyphs">60</tspan></text>
<text y="110.80" font-size="14.20"><tspan x="38.02" textLength="11.2" lengthAdjust="spacingAndGlyphs">−</tspan><tspan x="49.52" textLength="16.7" lengthAdjust="spacingAndGlyphs">80</tspan></text>
<text y="149.80" font-size="14.20"><tspan x="29.18" textLength="11.2" lengthAdjust="spacingAndGlyphs">−</tspan><tspan x="40.68" textLength="25.5" lengthAdjust="spacingAndGlyphs">100</tspan></text>
<text y="187.80" font-size="14.20"><tspan x="29.18" textLength="11.2" lengthAdjust="spacingAndGlyphs">−</tspan><tspan x="40.68" textLength="25.5" lengthAdjust="spacingAndGlyphs">120</tspan></text>
<text y="225.80" font-size="14.20"><tspan x="29.18" textLength="11.2" lengthAdjust="spacingAndGlyphs">−</tspan><tspan x="40.68" textLength="25.5" lengthAdjust="spacingAndGlyphs">140</tspan></text>
<text y="264.80" font-size="14.20"><tspan x="29.18" textLength="11.2" lengthAdjust="spacingAndGlyphs">−</tspan><tspan x="40.68" textLength="25.5" lengthAdjust="spacingAndGlyphs">160</tspan></text>
<text y="302.80" font-size="14.20"><tspan x="29.18" textLength="11.2" lengthAdjust="spacingAndGlyphs">−</tspan><tspan x="40.68" textLength="25.5" lengthAdjust="spacingAndGlyphs">180</tspan></text>
<text y="340.80" font-size="14.20"><tspan x="29.18" textLength="11.2" lengthAdjust="spacingAndGlyphs">−</tspan><tspan x="40.68" textLength="25.5" lengthAdjust="spacingAndGlyphs">200</tspan></text>
<text y="376.20" font-size="14.20"><tspan x="273.50" textLength="43.4" lengthAdjust="spacingAndGlyphs">Period</tspan> <tspan x="321.25" textLength="18.1" lengthAdjust="spacingAndGlyphs">[s]</tspan></text>
<g transform="translate(17.0,268.2) rotate(-90)"><text y="0" font-size="14.2"><tspan x="0.6" textLength="42" lengthAdjust="spacingAndGlyphs">Power</tspan> <tspan x="46.2" textLength="5" lengthAdjust="spacingAndGlyphs">[</tspan><tspan x="51.3" font-style="italic" textLength="13" lengthAdjust="spacingAndGlyphs">m</tspan><tspan x="65.3" font-size="10" dy="-5.2" textLength="5.6" lengthAdjust="spacingAndGlyphs">2</tspan><tspan x="72" dy="5.2" font-style="italic" textLength="11.8" lengthAdjust="spacingAndGlyphs">/s</tspan><tspan x="84.3" font-size="10" dy="-5.2" textLength="5.8" lengthAdjust="spacingAndGlyphs">4</tspan><tspan x="90.8" dy="5.2" font-style="italic" textLength="22.6" lengthAdjust="spacingAndGlyphs">/Hz</tspan><tspan x="113.8" textLength="5" lengthAdjust="spacingAndGlyphs">]</tspan> <tspan x="124.4" textLength="28" lengthAdjust="spacingAndGlyphs">[dB]</tspan></text></g>
<defs><linearGradient id="cb" x1="0" y1="1" x2="0" y2="0">
<stop offset="0.000" stop-color="#ffffff"/>
<stop offset="0.083" stop-color="#eaf2d2"/>
<stop offset="0.167" stop-color="#cde298"/>
<stop offset="0.250" stop-color="#98d048"/>
<stop offset="0.333" stop-color="#60c65c"/>
<stop offset="0.417" stop-color="#2eb078"/>
<stop offset="0.500" stop-color="#20928c"/>
<stop offset="0.583" stop-color="#267d8e"/>
<stop offset="0.667" stop-color="#31688e"/>
<stop offset="0.750" stop-color="#3e4c8a"/>
<stop offset="0.833" stop-color="#472f7d"/>
<stop offset="0.917" stop-color="#481969"/>
<stop offset="1.000" stop-color="#440154"/>
</linearGradient></defs>
<rect x="565.9" y="225.2" width="6.9" height="111.2" fill="url(#cb)"/>
<polyline points="566.4,226.3 566.4,336.4 572.6,336.4 572.6,226.8" fill="none" stroke="#000" stroke-width="1.1"/>
<g stroke="#000" stroke-width="1.1">
<line x1="580.8" y1="336.5" x2="586.6" y2="336.5"/>
<line x1="580.8" y1="318.2" x2="586.6" y2="318.2"/>
<line x1="580.8" y1="299.8" x2="586.6" y2="299.8"/>
<line x1="580.8" y1="281.5" x2="586.6" y2="281.5"/>
<line x1="580.8" y1="263.2" x2="586.6" y2="263.2"/>
<line x1="580.8" y1="244.9" x2="586.6" y2="244.9"/>
<line x1="580.8" y1="226.5" x2="586.6" y2="226.5"/>
</g>
<text x="591.30" y="341.20" font-size="14.20" text-anchor="start" textLength="7.5" lengthAdjust="spacingAndGlyphs">0</text>
<text x="591.30" y="322.87" font-size="14.20" text-anchor="start" textLength="7.5" lengthAdjust="spacingAndGlyphs">5</text>
<text x="591.30" y="304.54" font-size="14.20" text-anchor="start" textLength="16.3" lengthAdjust="spacingAndGlyphs">10</text>
<text x="591.30" y="286.21" font-size="14.20" text-anchor="start" textLength="16.3" lengthAdjust="spacingAndGlyphs">15</text>
<text x="591.30" y="267.88" font-size="14.20" text-anchor="start" textLength="16.3" lengthAdjust="spacingAndGlyphs">20</text>
<text x="591.30" y="249.55" font-size="14.20" text-anchor="start" textLength="16.3" lengthAdjust="spacingAndGlyphs">25</text>
<text x="591.30" y="231.22" font-size="14.20" text-anchor="start" textLength="16.3" lengthAdjust="spacingAndGlyphs">30</text>
<text transform="translate(624.3,206.3) rotate(-90)" font-size="14.2" textLength="24.1" lengthAdjust="spacingAndGlyphs">[%]</text>
<g shape-rendering="crispEdges"><rect x="116" y="379.2" width="408" height="7.8" fill="#008000"/><rect x="116" y="387" width="399" height="11.4" fill="#0000ff"/></g>
<rect x="96.5" y="379.5" width="448" height="19" fill="none" stroke="#000" stroke-width="1.1"/>
<g stroke="#000" stroke-width="1.1">
<line x1="116.5" y1="398.5" x2="116.5" y2="403.4"/>
<line x1="167.5" y1="398.5" x2="167.5" y2="403.4"/>
<line x1="218.5" y1="398.5" x2="218.5" y2="403.4"/>
<line x1="269.5" y1="398.5" x2="269.5" y2="403.4"/>
<line x1="320.5" y1="398.5" x2="320.5" y2="403.4"/>
<line x1="371.5" y1="398.5" x2="371.5" y2="403.4"/>
<line x1="422.5" y1="398.5" x2="422.5" y2="403.4"/>
<line x1="473.5" y1="398.5" x2="473.5" y2="403.4"/>
<line x1="524.5" y1="398.5" x2="524.5" y2="403.4"/>
</g>
<g transform="translate(114.00,418.18) rotate(-30)"><text y="0" font-size="14.2"><tspan x="-61.9" textLength="40" lengthAdjust="spacingAndGlyphs">04-01</tspan> <tspan x="-17.5" textLength="17.5" lengthAdjust="spacingAndGlyphs">00</tspan></text></g>
<g transform="translate(164.90,418.18) rotate(-30)"><text y="0" font-size="14.2"><tspan x="-61.9" textLength="40" lengthAdjust="spacingAndGlyphs">04-01</tspan> <tspan x="-17.5" textLength="17.5" lengthAdjust="spacingAndGlyphs">03</tspan></text></g>
<g transform="translate(215.80,418.18) rotate(-30)"><text y="0" font-size="14.2"><tspan x="-61.9" textLength="40" lengthAdjust="spacingAndGlyphs">04-01</tspan> <tspan x="-17.5" textLength="17.5" lengthAdjust="spacingAndGlyphs">06</tspan></text></g>
<g transform="translate(266.70,418.18) rotate(-30)"><text y="0" font-size="14.2"><tspan x="-61.9" textLength="40" lengthAdjust="spacingAndGlyphs">04-01</tspan> <tspan x="-17.5" textLength="17.5" lengthAdjust="spacingAndGlyphs">09</tspan></text></g>
<g transform="translate(317.60,418.18) rotate(-30)"><text y="0" font-size="14.2"><tspan x="-61.9" textLength="40" lengthAdjust="spacingAndGlyphs">04-01</tspan> <tspan x="-17.5" textLength="17.5" lengthAdjust="spacingAndGlyphs">12</tspan></text></g>
<g transform="translate(368.50,418.18) rotate(-30)"><text y="0" font-size="14.2"><tspan x="-61.9" textLength="40" lengthAdjust="spacingAndGlyphs">04-01</tspan> <tspan x="-17.5" textLength="17.5" lengthAdjust="spacingAndGlyphs">15</tspan></text></g>
<g transform="translate(419.40,418.18) rotate(-30)"><text y="0" font-size="14.2"><tspan x="-61.9" textLength="40" lengthAdjust="spacingAndGlyphs">04-01</tspan> <tspan x="-17.5" textLength="17.5" lengthAdjust="spacingAndGlyphs">18</tspan></text></g>
<g transform="translate(470.30,418.18) rotate(-30)"><text y="0" font-size="14.2"><tspan x="-61.9" textLength="40" lengthAdjust="spacingAndGlyphs">04-01</tspan> <tspan x="-17.5" textLength="17.5" lengthAdjust="spacingAndGlyphs">21</tspan></text></g>
<g transform="translate(521.20,418.18) rotate(-30)"><text y="0" font-size="14.2"><tspan x="-61.9" textLength="40" lengthAdjust="spacingAndGlyphs">04-02</tspan> <tspan x="-17.5" textLength="17.5" lengthAdjust="spacingAndGlyphs">00</tspan></text></g>
</svg>
</body></html>
